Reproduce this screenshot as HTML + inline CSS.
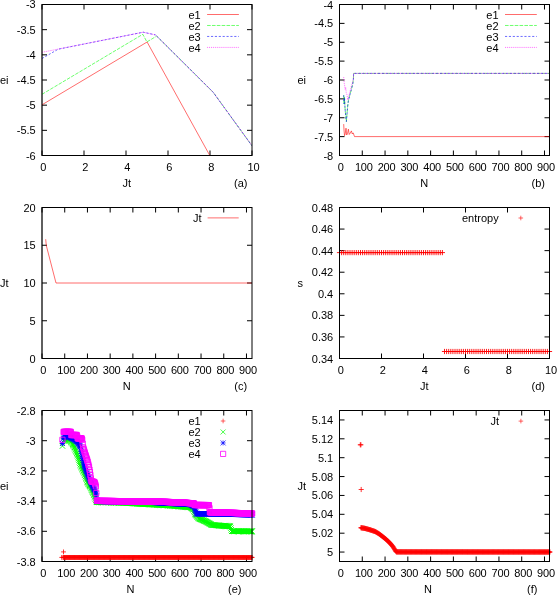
<!DOCTYPE html>
<html><head><meta charset="utf-8"><title>plots</title>
<style>
html,body{margin:0;padding:0;background:#fff;}
body{width:557px;height:595px;overflow:hidden;}
svg{display:block;will-change:transform;}
text{font-family:"Liberation Sans",sans-serif;font-size:11px;fill:#000;}
</style></head><body>
<svg width="557" height="595" viewBox="0 0 557 595">
<defs><filter id="idf" x="0" y="0" width="557" height="595" filterUnits="userSpaceOnUse"><feOffset dx="0" dy="0"/></filter><clipPath id="ca"><rect x="42" y="4.5" width="210" height="151"/></clipPath></defs>
<rect width="557" height="595" fill="#fff"/>
<path d="M42 4.5V155.5" stroke="#000" stroke-width="1" stroke-opacity="0.5" fill="none"/>
<path d="M42 155.5v-5M42 4.5v5M84 155.5v-5M84 4.5v5M126 155.5v-5M126 4.5v5M168 155.5v-5M168 4.5v5M210 155.5v-5M210 4.5v5M252 155.5v-5M252 4.5v5M42 4.5h5M252 4.5h-5M42 29.67h5M252 29.67h-5M42 54.83h5M252 54.83h-5M42 80h5M252 80h-5M42 105.17h5M252 105.17h-5M42 130.33h5M252 130.33h-5M42 155.5h5M252 155.5h-5" stroke="#000" stroke-width="1" fill="none"/>
<g clip-path="url(#ca)">
<polyline points="42,104.8 147.1,42 209.8,155.5" fill="none" stroke="#ff0000" stroke-width="0.58"/>
<polyline points="42,94.3 142.8,34.3 146.9,41.9 156.7,36.1 213.2,92.3 252,145.8" fill="none" stroke="#00ff00" stroke-width="0.58" stroke-dasharray="3.6 1.25"/>
<polyline points="42,58.5 58.2,49.2 143.2,32.2 155.5,34.9 213.2,92.3 252,145.8" fill="none" stroke="#0000ff" stroke-width="0.58" stroke-dasharray="2.15 1.73"/>
<polyline points="42,52.3 143.2,32.2 155.5,34.9 213.2,92.3 252,145.8" fill="none" stroke="#ff00ff" stroke-width="0.58" stroke-dasharray="0.97 0.97"/>
</g>
<polyline points="207.1,14.5 238.9,14.5" fill="none" stroke="#ff0000" stroke-width="0.58"/>
<polyline points="207.1,25.47 238.9,25.47" fill="none" stroke="#00ff00" stroke-width="0.58" stroke-dasharray="3.6 1.25"/>
<polyline points="207.1,36.44 238.9,36.44" fill="none" stroke="#0000ff" stroke-width="0.58" stroke-dasharray="2.15 1.73"/>
<polyline points="207.1,47.41 238.9,47.41" fill="none" stroke="#ff00ff" stroke-width="0.58" stroke-dasharray="0.97 0.97"/>
<path d="M339.5 155.5v-5M339.5 4.5v5M362.28 155.5v-5M362.28 4.5v5M385.05 155.5v-5M385.05 4.5v5M407.83 155.5v-5M407.83 4.5v5M430.61 155.5v-5M430.61 4.5v5M453.38 155.5v-5M453.38 4.5v5M476.16 155.5v-5M476.16 4.5v5M498.94 155.5v-5M498.94 4.5v5M521.71 155.5v-5M521.71 4.5v5M544.49 155.5v-5M544.49 4.5v5M339.5 4.5h5M549.5 4.5h-5M339.5 23.38h5M549.5 23.38h-5M339.5 42.25h5M549.5 42.25h-5M339.5 61.12h5M549.5 61.12h-5M339.5 80h5M549.5 80h-5M339.5 98.88h5M549.5 98.88h-5M339.5 117.75h5M549.5 117.75h-5M339.5 136.62h5M549.5 136.62h-5M339.5 155.5h5M549.5 155.5h-5" stroke="#000" stroke-width="1" fill="none"/>
<polyline points="343.7,124.1 344,130 344.5,135.6 345.2,134 346,128.2 346.7,135 347.5,133.5 348.4,129.2 349.2,134.5 350.3,133 351.4,130.9 352.3,134 353.2,132.9 354.5,136.6 549.5,136.6" fill="none" stroke="#ff0000" stroke-width="0.58"/>
<polyline points="343.7,95.2 344.1,104 344.5,97.5 345,108 345.7,116 346.4,121.5 347,114 347.7,106 348.4,100.6 349.7,95.5 351.1,90.5 352.7,84 353.4,79.5 353.6,73.4 549.5,73.4" fill="none" stroke="#00ff00" stroke-width="0.58" stroke-dasharray="3.6 1.25"/>
<polyline points="343.7,95.2 344.1,104 344.5,97.5 345,108 345.7,116 346.4,121.5 347,114 347.7,106 348.4,100.6 349.7,95.5 351.1,90.5 352.7,84 353.4,79.5 353.6,73.4 549.5,73.4" fill="none" stroke="#0000ff" stroke-width="0.58" stroke-dasharray="2.15 1.73"/>
<polyline points="343.7,77.1 344.2,83 344.7,86 345.2,89.5 345.7,87.5 346.2,92.5 346.8,94 347.3,97 347.8,100 348.6,97 349.8,92 351.1,87.2 352.7,82 353.4,78.5 353.6,73.4 549.5,73.4" fill="none" stroke="#ff00ff" stroke-width="0.58" stroke-dasharray="0.97 0.97"/>
<polyline points="505,14.5 536.8,14.5" fill="none" stroke="#ff0000" stroke-width="0.58"/>
<polyline points="505,25.47 536.8,25.47" fill="none" stroke="#00ff00" stroke-width="0.58" stroke-dasharray="3.6 1.25"/>
<polyline points="505,36.44 536.8,36.44" fill="none" stroke="#0000ff" stroke-width="0.58" stroke-dasharray="2.15 1.73"/>
<polyline points="505,47.41 536.8,47.41" fill="none" stroke="#ff00ff" stroke-width="0.58" stroke-dasharray="0.97 0.97"/>
<path d="M42 207.5V358.5" stroke="#000" stroke-width="1" stroke-opacity="0.5" fill="none"/>
<path d="M42 358.5v-5M42 207.5v5M64.72 358.5v-5M64.72 207.5v5M87.44 358.5v-5M87.44 207.5v5M110.16 358.5v-5M110.16 207.5v5M132.88 358.5v-5M132.88 207.5v5M155.6 358.5v-5M155.6 207.5v5M178.32 358.5v-5M178.32 207.5v5M201.04 358.5v-5M201.04 207.5v5M223.76 358.5v-5M223.76 207.5v5M246.48 358.5v-5M246.48 207.5v5M42 207.5h5M252 207.5h-5M42 245.25h5M252 245.25h-5M42 283h5M252 283h-5M42 320.75h5M252 320.75h-5M42 358.5h5M252 358.5h-5" stroke="#000" stroke-width="1" fill="none"/>
<polyline points="45.7,239.2 46.3,245.5 56,283 252,283" fill="none" stroke="#ff0000" stroke-width="0.58"/>
<polyline points="207.6,217.9 238.7,217.9" fill="none" stroke="#ff0000" stroke-width="0.58"/>
<path d="M339.5 358.5v-5M339.5 207.5v5M381.5 358.5v-5M381.5 207.5v5M423.5 358.5v-5M423.5 207.5v5M465.5 358.5v-5M465.5 207.5v5M507.5 358.5v-5M507.5 207.5v5M549.5 358.5v-5M549.5 207.5v5M339.5 207.5h5M549.5 207.5h-5M339.5 229.07h5M549.5 229.07h-5M339.5 250.64h5M549.5 250.64h-5M339.5 272.21h5M549.5 272.21h-5M339.5 293.79h5M549.5 293.79h-5M339.5 315.36h5M549.5 315.36h-5M339.5 336.93h5M549.5 336.93h-5M339.5 358.5h5M549.5 358.5h-5" stroke="#000" stroke-width="1" fill="none"/>
<path d="M336.9 252.6h5.2M339.5 250v5.2M339 252.6h5.2M341.6 250v5.2M341.1 252.6h5.2M343.7 250v5.2M343.2 252.6h5.2M345.8 250v5.2M345.3 252.6h5.2M347.9 250v5.2M347.4 252.6h5.2M350 250v5.2M349.5 252.6h5.2M352.1 250v5.2M351.6 252.6h5.2M354.2 250v5.2M353.7 252.6h5.2M356.3 250v5.2M355.8 252.6h5.2M358.4 250v5.2M357.9 252.6h5.2M360.5 250v5.2M360 252.6h5.2M362.6 250v5.2M362.1 252.6h5.2M364.7 250v5.2M364.2 252.6h5.2M366.8 250v5.2M366.3 252.6h5.2M368.9 250v5.2M368.4 252.6h5.2M371 250v5.2M370.5 252.6h5.2M373.1 250v5.2M372.6 252.6h5.2M375.2 250v5.2M374.7 252.6h5.2M377.3 250v5.2M376.8 252.6h5.2M379.4 250v5.2M378.9 252.6h5.2M381.5 250v5.2M381 252.6h5.2M383.6 250v5.2M383.1 252.6h5.2M385.7 250v5.2M385.2 252.6h5.2M387.8 250v5.2M387.3 252.6h5.2M389.9 250v5.2M389.4 252.6h5.2M392 250v5.2M391.5 252.6h5.2M394.1 250v5.2M393.6 252.6h5.2M396.2 250v5.2M395.7 252.6h5.2M398.3 250v5.2M397.8 252.6h5.2M400.4 250v5.2M399.9 252.6h5.2M402.5 250v5.2M402 252.6h5.2M404.6 250v5.2M404.1 252.6h5.2M406.7 250v5.2M406.2 252.6h5.2M408.8 250v5.2M408.3 252.6h5.2M410.9 250v5.2M410.4 252.6h5.2M413 250v5.2M412.5 252.6h5.2M415.1 250v5.2M414.6 252.6h5.2M417.2 250v5.2M416.7 252.6h5.2M419.3 250v5.2M418.8 252.6h5.2M421.4 250v5.2M420.9 252.6h5.2M423.5 250v5.2M423 252.6h5.2M425.6 250v5.2M425.1 252.6h5.2M427.7 250v5.2M427.2 252.6h5.2M429.8 250v5.2M429.3 252.6h5.2M431.9 250v5.2M431.4 252.6h5.2M434 250v5.2M433.5 252.6h5.2M436.1 250v5.2M435.6 252.6h5.2M438.2 250v5.2M437.7 252.6h5.2M440.3 250v5.2M439.8 252.6h5.2M442.4 250v5.2M441.9 351.5h5.2M444.5 348.9v5.2M444 351.5h5.2M446.6 348.9v5.2M446.1 351.5h5.2M448.7 348.9v5.2M448.2 351.5h5.2M450.8 348.9v5.2M450.3 351.5h5.2M452.9 348.9v5.2M452.4 351.5h5.2M455 348.9v5.2M454.5 351.5h5.2M457.1 348.9v5.2M456.6 351.5h5.2M459.2 348.9v5.2M458.7 351.5h5.2M461.3 348.9v5.2M460.8 351.5h5.2M463.4 348.9v5.2M462.9 351.5h5.2M465.5 348.9v5.2M465 351.5h5.2M467.6 348.9v5.2M467.1 351.5h5.2M469.7 348.9v5.2M469.2 351.5h5.2M471.8 348.9v5.2M471.3 351.5h5.2M473.9 348.9v5.2M473.4 351.5h5.2M476 348.9v5.2M475.5 351.5h5.2M478.1 348.9v5.2M477.6 351.5h5.2M480.2 348.9v5.2M479.7 351.5h5.2M482.3 348.9v5.2M481.8 351.5h5.2M484.4 348.9v5.2M483.9 351.5h5.2M486.5 348.9v5.2M486 351.5h5.2M488.6 348.9v5.2M488.1 351.5h5.2M490.7 348.9v5.2M490.2 351.5h5.2M492.8 348.9v5.2M492.3 351.5h5.2M494.9 348.9v5.2M494.4 351.5h5.2M497 348.9v5.2M496.5 351.5h5.2M499.1 348.9v5.2M498.6 351.5h5.2M501.2 348.9v5.2M500.7 351.5h5.2M503.3 348.9v5.2M502.8 351.5h5.2M505.4 348.9v5.2M504.9 351.5h5.2M507.5 348.9v5.2M507 351.5h5.2M509.6 348.9v5.2M509.1 351.5h5.2M511.7 348.9v5.2M511.2 351.5h5.2M513.8 348.9v5.2M513.3 351.5h5.2M515.9 348.9v5.2M515.4 351.5h5.2M518 348.9v5.2M517.5 351.5h5.2M520.1 348.9v5.2M519.6 351.5h5.2M522.2 348.9v5.2M521.7 351.5h5.2M524.3 348.9v5.2M523.8 351.5h5.2M526.4 348.9v5.2M525.9 351.5h5.2M528.5 348.9v5.2M528 351.5h5.2M530.6 348.9v5.2M530.1 351.5h5.2M532.7 348.9v5.2M532.2 351.5h5.2M534.8 348.9v5.2M534.3 351.5h5.2M536.9 348.9v5.2M536.4 351.5h5.2M539 348.9v5.2M538.5 351.5h5.2M541.1 348.9v5.2M540.6 351.5h5.2M543.2 348.9v5.2M542.7 351.5h5.2M545.3 348.9v5.2M544.8 351.5h5.2M547.4 348.9v5.2M546.9 351.5h5.2M549.5 348.9v5.2" stroke="#ff0000" stroke-width="0.9" fill="none"/>
<path d="M518.5 218h4.6M520.8 215.7v4.6" stroke="#ff0000" stroke-width="0.6" fill="none"/>
<path d="M42 410.5V561.5" stroke="#000" stroke-width="1" stroke-opacity="0.5" fill="none"/>
<path d="M42 561.5v-5M42 410.5v5M64.72 561.5v-5M64.72 410.5v5M87.44 561.5v-5M87.44 410.5v5M110.16 561.5v-5M110.16 410.5v5M132.88 561.5v-5M132.88 410.5v5M155.6 561.5v-5M155.6 410.5v5M178.32 561.5v-5M178.32 410.5v5M201.04 561.5v-5M201.04 410.5v5M223.76 561.5v-5M223.76 410.5v5M246.48 561.5v-5M246.48 410.5v5M42 410.5h5M252 410.5h-5M42 440.7h5M252 440.7h-5M42 470.9h5M252 470.9h-5M42 501.1h5M252 501.1h-5M42 531.3h5M252 531.3h-5M42 561.5h5M252 561.5h-5" stroke="#000" stroke-width="1" fill="none"/>
<path d="M61.1 551.9h4.8M63.5 549.5v4.8M59.3 557.4h4.8M61.7 555v4.8M60.6 557.4h4.8M63 555v4.8M61.18 557.4h4.8M63.58 555v4.8M61.64 557.4h4.8M64.04 555v4.8M62.09 557.4h4.8M64.49 555v4.8M62.55 557.4h4.8M64.95 555v4.8M63 557.4h4.8M65.4 555v4.8M63.46 557.4h4.8M65.86 555v4.8M63.91 557.4h4.8M66.31 555v4.8M64.36 557.4h4.8M66.76 555v4.8M64.82 557.4h4.8M67.22 555v4.8M65.27 557.4h4.8M67.67 555v4.8M65.73 557.4h4.8M68.13 555v4.8M66.18 557.4h4.8M68.58 555v4.8M66.64 557.4h4.8M69.04 555v4.8M67.09 557.4h4.8M69.49 555v4.8M67.55 557.4h4.8M69.95 555v4.8M68 557.4h4.8M70.4 555v4.8M68.45 557.4h4.8M70.85 555v4.8M68.91 557.4h4.8M71.31 555v4.8M69.36 557.4h4.8M71.76 555v4.8M69.82 557.4h4.8M72.22 555v4.8M70.27 557.4h4.8M72.67 555v4.8M70.73 557.4h4.8M73.13 555v4.8M71.18 557.4h4.8M73.58 555v4.8M71.64 557.4h4.8M74.04 555v4.8M72.09 557.4h4.8M74.49 555v4.8M72.54 557.4h4.8M74.94 555v4.8M73 557.4h4.8M75.4 555v4.8M73.45 557.4h4.8M75.85 555v4.8M73.91 557.4h4.8M76.31 555v4.8M74.36 557.4h4.8M76.76 555v4.8M74.82 557.4h4.8M77.22 555v4.8M75.27 557.4h4.8M77.67 555v4.8M75.72 557.4h4.8M78.12 555v4.8M76.18 557.4h4.8M78.58 555v4.8M76.63 557.4h4.8M79.03 555v4.8M77.09 557.4h4.8M79.49 555v4.8M77.54 557.4h4.8M79.94 555v4.8M78 557.4h4.8M80.4 555v4.8M78.45 557.4h4.8M80.85 555v4.8M78.91 557.4h4.8M81.31 555v4.8M79.36 557.4h4.8M81.76 555v4.8M79.81 557.4h4.8M82.21 555v4.8M80.27 557.4h4.8M82.67 555v4.8M80.72 557.4h4.8M83.12 555v4.8M81.18 557.4h4.8M83.58 555v4.8M81.63 557.4h4.8M84.03 555v4.8M82.09 557.4h4.8M84.49 555v4.8M82.54 557.4h4.8M84.94 555v4.8M83 557.4h4.8M85.4 555v4.8M83.45 557.4h4.8M85.85 555v4.8M83.9 557.4h4.8M86.3 555v4.8M84.36 557.4h4.8M86.76 555v4.8M84.81 557.4h4.8M87.21 555v4.8M85.27 557.4h4.8M87.67 555v4.8M85.72 557.4h4.8M88.12 555v4.8M86.18 557.4h4.8M88.58 555v4.8M86.63 557.4h4.8M89.03 555v4.8M87.08 557.4h4.8M89.48 555v4.8M87.54 557.4h4.8M89.94 555v4.8M87.99 557.4h4.8M90.39 555v4.8M88.45 557.4h4.8M90.85 555v4.8M88.9 557.4h4.8M91.3 555v4.8M89.36 557.4h4.8M91.76 555v4.8M89.81 557.4h4.8M92.21 555v4.8M90.27 557.4h4.8M92.67 555v4.8M90.72 557.4h4.8M93.12 555v4.8M91.17 557.4h4.8M93.57 555v4.8M91.63 557.4h4.8M94.03 555v4.8M92.08 557.4h4.8M94.48 555v4.8M92.54 557.4h4.8M94.94 555v4.8M92.99 557.4h4.8M95.39 555v4.8M93.45 557.4h4.8M95.85 555v4.8M93.9 557.4h4.8M96.3 555v4.8M94.36 557.4h4.8M96.76 555v4.8M94.81 557.4h4.8M97.21 555v4.8M95.26 557.4h4.8M97.66 555v4.8M95.72 557.4h4.8M98.12 555v4.8M96.17 557.4h4.8M98.57 555v4.8M96.63 557.4h4.8M99.03 555v4.8M97.08 557.4h4.8M99.48 555v4.8M97.54 557.4h4.8M99.94 555v4.8M97.99 557.4h4.8M100.39 555v4.8M98.44 557.4h4.8M100.84 555v4.8M98.9 557.4h4.8M101.3 555v4.8M99.35 557.4h4.8M101.75 555v4.8M99.81 557.4h4.8M102.21 555v4.8M100.26 557.4h4.8M102.66 555v4.8M100.72 557.4h4.8M103.12 555v4.8M101.17 557.4h4.8M103.57 555v4.8M101.63 557.4h4.8M104.03 555v4.8M102.08 557.4h4.8M104.48 555v4.8M102.53 557.4h4.8M104.93 555v4.8M102.99 557.4h4.8M105.39 555v4.8M103.44 557.4h4.8M105.84 555v4.8M103.9 557.4h4.8M106.3 555v4.8M104.35 557.4h4.8M106.75 555v4.8M104.81 557.4h4.8M107.21 555v4.8M105.26 557.4h4.8M107.66 555v4.8M105.72 557.4h4.8M108.12 555v4.8M106.17 557.4h4.8M108.57 555v4.8M106.62 557.4h4.8M109.02 555v4.8M107.08 557.4h4.8M109.48 555v4.8M107.53 557.4h4.8M109.93 555v4.8M107.99 557.4h4.8M110.39 555v4.8M108.44 557.4h4.8M110.84 555v4.8M108.9 557.4h4.8M111.3 555v4.8M109.35 557.4h4.8M111.75 555v4.8M109.8 557.4h4.8M112.2 555v4.8M110.26 557.4h4.8M112.66 555v4.8M110.71 557.4h4.8M113.11 555v4.8M111.17 557.4h4.8M113.57 555v4.8M111.62 557.4h4.8M114.02 555v4.8M112.08 557.4h4.8M114.48 555v4.8M112.53 557.4h4.8M114.93 555v4.8M112.99 557.4h4.8M115.39 555v4.8M113.44 557.4h4.8M115.84 555v4.8M113.89 557.4h4.8M116.29 555v4.8M114.35 557.4h4.8M116.75 555v4.8M114.8 557.4h4.8M117.2 555v4.8M115.26 557.4h4.8M117.66 555v4.8M115.71 557.4h4.8M118.11 555v4.8M116.17 557.4h4.8M118.57 555v4.8M116.62 557.4h4.8M119.02 555v4.8M117.08 557.4h4.8M119.48 555v4.8M117.53 557.4h4.8M119.93 555v4.8M117.98 557.4h4.8M120.38 555v4.8M118.44 557.4h4.8M120.84 555v4.8M118.89 557.4h4.8M121.29 555v4.8M119.35 557.4h4.8M121.75 555v4.8M119.8 557.4h4.8M122.2 555v4.8M120.26 557.4h4.8M122.66 555v4.8M120.71 557.4h4.8M123.11 555v4.8M121.16 557.4h4.8M123.56 555v4.8M121.62 557.4h4.8M124.02 555v4.8M122.07 557.4h4.8M124.47 555v4.8M122.53 557.4h4.8M124.93 555v4.8M122.98 557.4h4.8M125.38 555v4.8M123.44 557.4h4.8M125.84 555v4.8M123.89 557.4h4.8M126.29 555v4.8M124.35 557.4h4.8M126.75 555v4.8M124.8 557.4h4.8M127.2 555v4.8M125.25 557.4h4.8M127.65 555v4.8M125.71 557.4h4.8M128.11 555v4.8M126.16 557.4h4.8M128.56 555v4.8M126.62 557.4h4.8M129.02 555v4.8M127.07 557.4h4.8M129.47 555v4.8M127.53 557.4h4.8M129.93 555v4.8M127.98 557.4h4.8M130.38 555v4.8M128.44 557.4h4.8M130.84 555v4.8M128.89 557.4h4.8M131.29 555v4.8M129.34 557.4h4.8M131.74 555v4.8M129.8 557.4h4.8M132.2 555v4.8M130.25 557.4h4.8M132.65 555v4.8M130.71 557.4h4.8M133.11 555v4.8M131.16 557.4h4.8M133.56 555v4.8M131.62 557.4h4.8M134.02 555v4.8M132.07 557.4h4.8M134.47 555v4.8M132.52 557.4h4.8M134.92 555v4.8M132.98 557.4h4.8M135.38 555v4.8M133.43 557.4h4.8M135.83 555v4.8M133.89 557.4h4.8M136.29 555v4.8M134.34 557.4h4.8M136.74 555v4.8M134.8 557.4h4.8M137.2 555v4.8M135.25 557.4h4.8M137.65 555v4.8M135.71 557.4h4.8M138.11 555v4.8M136.16 557.4h4.8M138.56 555v4.8M136.61 557.4h4.8M139.01 555v4.8M137.07 557.4h4.8M139.47 555v4.8M137.52 557.4h4.8M139.92 555v4.8M137.98 557.4h4.8M140.38 555v4.8M138.43 557.4h4.8M140.83 555v4.8M138.89 557.4h4.8M141.29 555v4.8M139.34 557.4h4.8M141.74 555v4.8M139.8 557.4h4.8M142.2 555v4.8M140.25 557.4h4.8M142.65 555v4.8M140.7 557.4h4.8M143.1 555v4.8M141.16 557.4h4.8M143.56 555v4.8M141.61 557.4h4.8M144.01 555v4.8M142.07 557.4h4.8M144.47 555v4.8M142.52 557.4h4.8M144.92 555v4.8M142.98 557.4h4.8M145.38 555v4.8M143.43 557.4h4.8M145.83 555v4.8M143.88 557.4h4.8M146.28 555v4.8M144.34 557.4h4.8M146.74 555v4.8M144.79 557.4h4.8M147.19 555v4.8M145.25 557.4h4.8M147.65 555v4.8M145.7 557.4h4.8M148.1 555v4.8M146.16 557.4h4.8M148.56 555v4.8M146.61 557.4h4.8M149.01 555v4.8M147.07 557.4h4.8M149.47 555v4.8M147.52 557.4h4.8M149.92 555v4.8M147.97 557.4h4.8M150.37 555v4.8M148.43 557.4h4.8M150.83 555v4.8M148.88 557.4h4.8M151.28 555v4.8M149.34 557.4h4.8M151.74 555v4.8M149.79 557.4h4.8M152.19 555v4.8M150.25 557.4h4.8M152.65 555v4.8M150.7 557.4h4.8M153.1 555v4.8M151.16 557.4h4.8M153.56 555v4.8M151.61 557.4h4.8M154.01 555v4.8M152.06 557.4h4.8M154.46 555v4.8M152.52 557.4h4.8M154.92 555v4.8M152.97 557.4h4.8M155.37 555v4.8M153.43 557.4h4.8M155.83 555v4.8M153.88 557.4h4.8M156.28 555v4.8M154.34 557.4h4.8M156.74 555v4.8M154.79 557.4h4.8M157.19 555v4.8M155.24 557.4h4.8M157.64 555v4.8M155.7 557.4h4.8M158.1 555v4.8M156.15 557.4h4.8M158.55 555v4.8M156.61 557.4h4.8M159.01 555v4.8M157.06 557.4h4.8M159.46 555v4.8M157.52 557.4h4.8M159.92 555v4.8M157.97 557.4h4.8M160.37 555v4.8M158.43 557.4h4.8M160.83 555v4.8M158.88 557.4h4.8M161.28 555v4.8M159.33 557.4h4.8M161.73 555v4.8M159.79 557.4h4.8M162.19 555v4.8M160.24 557.4h4.8M162.64 555v4.8M160.7 557.4h4.8M163.1 555v4.8M161.15 557.4h4.8M163.55 555v4.8M161.61 557.4h4.8M164.01 555v4.8M162.06 557.4h4.8M164.46 555v4.8M162.52 557.4h4.8M164.92 555v4.8M162.97 557.4h4.8M165.37 555v4.8M163.42 557.4h4.8M165.82 555v4.8M163.88 557.4h4.8M166.28 555v4.8M164.33 557.4h4.8M166.73 555v4.8M164.79 557.4h4.8M167.19 555v4.8M165.24 557.4h4.8M167.64 555v4.8M165.7 557.4h4.8M168.1 555v4.8M166.15 557.4h4.8M168.55 555v4.8M166.6 557.4h4.8M169 555v4.8M167.06 557.4h4.8M169.46 555v4.8M167.51 557.4h4.8M169.91 555v4.8M167.97 557.4h4.8M170.37 555v4.8M168.42 557.4h4.8M170.82 555v4.8M168.88 557.4h4.8M171.28 555v4.8M169.33 557.4h4.8M171.73 555v4.8M169.79 557.4h4.8M172.19 555v4.8M170.24 557.4h4.8M172.64 555v4.8M170.69 557.4h4.8M173.09 555v4.8M171.15 557.4h4.8M173.55 555v4.8M171.6 557.4h4.8M174 555v4.8M172.06 557.4h4.8M174.46 555v4.8M172.51 557.4h4.8M174.91 555v4.8M172.97 557.4h4.8M175.37 555v4.8M173.42 557.4h4.8M175.82 555v4.8M173.88 557.4h4.8M176.28 555v4.8M174.33 557.4h4.8M176.73 555v4.8M174.78 557.4h4.8M177.18 555v4.8M175.24 557.4h4.8M177.64 555v4.8M175.69 557.4h4.8M178.09 555v4.8M176.15 557.4h4.8M178.55 555v4.8M176.6 557.4h4.8M179 555v4.8M177.06 557.4h4.8M179.46 555v4.8M177.51 557.4h4.8M179.91 555v4.8M177.96 557.4h4.8M180.36 555v4.8M178.42 557.4h4.8M180.82 555v4.8M178.87 557.4h4.8M181.27 555v4.8M179.33 557.4h4.8M181.73 555v4.8M179.78 557.4h4.8M182.18 555v4.8M180.24 557.4h4.8M182.64 555v4.8M180.69 557.4h4.8M183.09 555v4.8M181.15 557.4h4.8M183.55 555v4.8M181.6 557.4h4.8M184 555v4.8M182.05 557.4h4.8M184.45 555v4.8M182.51 557.4h4.8M184.91 555v4.8M182.96 557.4h4.8M185.36 555v4.8M183.42 557.4h4.8M185.82 555v4.8M183.87 557.4h4.8M186.27 555v4.8M184.33 557.4h4.8M186.73 555v4.8M184.78 557.4h4.8M187.18 555v4.8M185.24 557.4h4.8M187.64 555v4.8M185.69 557.4h4.8M188.09 555v4.8M186.14 557.4h4.8M188.54 555v4.8M186.6 557.4h4.8M189 555v4.8M187.05 557.4h4.8M189.45 555v4.8M187.51 557.4h4.8M189.91 555v4.8M187.96 557.4h4.8M190.36 555v4.8M188.42 557.4h4.8M190.82 555v4.8M188.87 557.4h4.8M191.27 555v4.8M189.32 557.4h4.8M191.72 555v4.8M189.78 557.4h4.8M192.18 555v4.8M190.23 557.4h4.8M192.63 555v4.8M190.69 557.4h4.8M193.09 555v4.8M191.14 557.4h4.8M193.54 555v4.8M191.6 557.4h4.8M194 555v4.8M192.05 557.4h4.8M194.45 555v4.8M192.51 557.4h4.8M194.91 555v4.8M192.96 557.4h4.8M195.36 555v4.8M193.41 557.4h4.8M195.81 555v4.8M193.87 557.4h4.8M196.27 555v4.8M194.32 557.4h4.8M196.72 555v4.8M194.78 557.4h4.8M197.18 555v4.8M195.23 557.4h4.8M197.63 555v4.8M195.69 557.4h4.8M198.09 555v4.8M196.14 557.4h4.8M198.54 555v4.8M196.6 557.4h4.8M199 555v4.8M197.05 557.4h4.8M199.45 555v4.8M197.5 557.4h4.8M199.9 555v4.8M197.96 557.4h4.8M200.36 555v4.8M198.41 557.4h4.8M200.81 555v4.8M198.87 557.4h4.8M201.27 555v4.8M199.32 557.4h4.8M201.72 555v4.8M199.78 557.4h4.8M202.18 555v4.8M200.23 557.4h4.8M202.63 555v4.8M200.68 557.4h4.8M203.08 555v4.8M201.14 557.4h4.8M203.54 555v4.8M201.59 557.4h4.8M203.99 555v4.8M202.05 557.4h4.8M204.45 555v4.8M202.5 557.4h4.8M204.9 555v4.8M202.96 557.4h4.8M205.36 555v4.8M203.41 557.4h4.8M205.81 555v4.8M203.87 557.4h4.8M206.27 555v4.8M204.32 557.4h4.8M206.72 555v4.8M204.77 557.4h4.8M207.17 555v4.8M205.23 557.4h4.8M207.63 555v4.8M205.68 557.4h4.8M208.08 555v4.8M206.14 557.4h4.8M208.54 555v4.8M206.59 557.4h4.8M208.99 555v4.8M207.05 557.4h4.8M209.45 555v4.8M207.5 557.4h4.8M209.9 555v4.8M207.96 557.4h4.8M210.36 555v4.8M208.41 557.4h4.8M210.81 555v4.8M208.86 557.4h4.8M211.26 555v4.8M209.32 557.4h4.8M211.72 555v4.8M209.77 557.4h4.8M212.17 555v4.8M210.23 557.4h4.8M212.63 555v4.8M210.68 557.4h4.8M213.08 555v4.8M211.14 557.4h4.8M213.54 555v4.8M211.59 557.4h4.8M213.99 555v4.8M212.04 557.4h4.8M214.44 555v4.8M212.5 557.4h4.8M214.9 555v4.8M212.95 557.4h4.8M215.35 555v4.8M213.41 557.4h4.8M215.81 555v4.8M213.86 557.4h4.8M216.26 555v4.8M214.32 557.4h4.8M216.72 555v4.8M214.77 557.4h4.8M217.17 555v4.8M215.23 557.4h4.8M217.63 555v4.8M215.68 557.4h4.8M218.08 555v4.8M216.13 557.4h4.8M218.53 555v4.8M216.59 557.4h4.8M218.99 555v4.8M217.04 557.4h4.8M219.44 555v4.8M217.5 557.4h4.8M219.9 555v4.8M217.95 557.4h4.8M220.35 555v4.8M218.41 557.4h4.8M220.81 555v4.8M218.86 557.4h4.8M221.26 555v4.8M219.32 557.4h4.8M221.72 555v4.8M219.77 557.4h4.8M222.17 555v4.8M220.22 557.4h4.8M222.62 555v4.8M220.68 557.4h4.8M223.08 555v4.8M221.13 557.4h4.8M223.53 555v4.8M221.59 557.4h4.8M223.99 555v4.8M222.04 557.4h4.8M224.44 555v4.8M222.5 557.4h4.8M224.9 555v4.8M222.95 557.4h4.8M225.35 555v4.8M223.4 557.4h4.8M225.8 555v4.8M223.86 557.4h4.8M226.26 555v4.8M224.31 557.4h4.8M226.71 555v4.8M224.77 557.4h4.8M227.17 555v4.8M225.22 557.4h4.8M227.62 555v4.8M225.68 557.4h4.8M228.08 555v4.8M226.13 557.4h4.8M228.53 555v4.8M226.59 557.4h4.8M228.99 555v4.8M227.04 557.4h4.8M229.44 555v4.8M227.49 557.4h4.8M229.89 555v4.8M227.95 557.4h4.8M230.35 555v4.8M228.4 557.4h4.8M230.8 555v4.8M228.86 557.4h4.8M231.26 555v4.8M229.31 557.4h4.8M231.71 555v4.8M229.77 557.4h4.8M232.17 555v4.8M230.22 557.4h4.8M232.62 555v4.8M230.68 557.4h4.8M233.08 555v4.8M231.13 557.4h4.8M233.53 555v4.8M231.58 557.4h4.8M233.98 555v4.8M232.04 557.4h4.8M234.44 555v4.8M232.49 557.4h4.8M234.89 555v4.8M232.95 557.4h4.8M235.35 555v4.8M233.4 557.4h4.8M235.8 555v4.8M233.86 557.4h4.8M236.26 555v4.8M234.31 557.4h4.8M236.71 555v4.8M234.76 557.4h4.8M237.16 555v4.8M235.22 557.4h4.8M237.62 555v4.8M235.67 557.4h4.8M238.07 555v4.8M236.13 557.4h4.8M238.53 555v4.8M236.58 557.4h4.8M238.98 555v4.8M237.04 557.4h4.8M239.44 555v4.8M237.49 557.4h4.8M239.89 555v4.8M237.95 557.4h4.8M240.35 555v4.8M238.4 557.4h4.8M240.8 555v4.8M238.85 557.4h4.8M241.25 555v4.8M239.31 557.4h4.8M241.71 555v4.8M239.76 557.4h4.8M242.16 555v4.8M240.22 557.4h4.8M242.62 555v4.8M240.67 557.4h4.8M243.07 555v4.8M241.13 557.4h4.8M243.53 555v4.8M241.58 557.4h4.8M243.98 555v4.8M242.04 557.4h4.8M244.44 555v4.8M242.49 557.4h4.8M244.89 555v4.8M242.94 557.4h4.8M245.34 555v4.8M243.4 557.4h4.8M245.8 555v4.8M243.85 557.4h4.8M246.25 555v4.8M244.31 557.4h4.8M246.71 555v4.8M244.76 557.4h4.8M247.16 555v4.8M245.22 557.4h4.8M247.62 555v4.8M245.67 557.4h4.8M248.07 555v4.8M246.12 557.4h4.8M248.52 555v4.8M246.58 557.4h4.8M248.98 555v4.8M247.03 557.4h4.8M249.43 555v4.8M247.49 557.4h4.8M249.89 555v4.8M247.94 557.4h4.8M250.34 555v4.8M248.4 557.4h4.8M250.8 555v4.8M248.85 557.4h4.8M251.25 555v4.8M249.31 557.4h4.8M251.71 555v4.8M249.76 557.4h4.8M252.16 555v4.8" stroke="#ff0000" stroke-width="0.8" fill="none"/>
<path d="M59.75 443.3l5.4 5.4M59.75 448.7l5.4 -5.4M60.88 438.19l5.4 5.4M60.88 443.59l5.4 -5.4M61.34 437.63l5.4 5.4M61.34 443.03l5.4 -5.4M61.79 437.06l5.4 5.4M61.79 442.46l5.4 -5.4M62.25 436.49l5.4 5.4M62.25 441.89l5.4 -5.4M62.7 435.92l5.4 5.4M62.7 441.32l5.4 -5.4M63.16 435.86l5.4 5.4M63.16 441.26l5.4 -5.4M63.61 435.93l5.4 5.4M63.61 441.33l5.4 -5.4M64.06 436l5.4 5.4M64.06 441.4l5.4 -5.4M64.52 436.08l5.4 5.4M64.52 441.48l5.4 -5.4M64.97 436.15l5.4 5.4M64.97 441.55l5.4 -5.4M65.43 436.32l5.4 5.4M65.43 441.72l5.4 -5.4M65.88 436.75l5.4 5.4M65.88 442.15l5.4 -5.4M66.34 437.17l5.4 5.4M66.34 442.57l5.4 -5.4M66.79 437.6l5.4 5.4M66.79 443l5.4 -5.4M67.25 438.03l5.4 5.4M67.25 443.43l5.4 -5.4M67.7 438.45l5.4 5.4M67.7 443.85l5.4 -5.4M68.15 438.88l5.4 5.4M68.15 444.28l5.4 -5.4M68.61 439.31l5.4 5.4M68.61 444.71l5.4 -5.4M69.06 440.07l5.4 5.4M69.06 445.47l5.4 -5.4M69.52 440.83l5.4 5.4M69.52 446.23l5.4 -5.4M69.97 441.59l5.4 5.4M69.97 446.99l5.4 -5.4M70.43 442.34l5.4 5.4M70.43 447.74l5.4 -5.4M70.88 443.1l5.4 5.4M70.88 448.5l5.4 -5.4M71.34 443.86l5.4 5.4M71.34 449.26l5.4 -5.4M71.79 444.79l5.4 5.4M71.79 450.19l5.4 -5.4M72.24 445.96l5.4 5.4M72.24 451.36l5.4 -5.4M72.7 447.12l5.4 5.4M72.7 452.52l5.4 -5.4M73.15 448.29l5.4 5.4M73.15 453.69l5.4 -5.4M73.61 449.46l5.4 5.4M73.61 454.86l5.4 -5.4M74.06 450.63l5.4 5.4M74.06 456.03l5.4 -5.4M74.52 451.8l5.4 5.4M74.52 457.2l5.4 -5.4M74.97 452.97l5.4 5.4M74.97 458.37l5.4 -5.4M75.42 454.38l5.4 5.4M75.42 459.78l5.4 -5.4M75.88 455.9l5.4 5.4M75.88 461.3l5.4 -5.4M76.33 457.41l5.4 5.4M76.33 462.81l5.4 -5.4M76.79 458.93l5.4 5.4M76.79 464.33l5.4 -5.4M77.24 460.44l5.4 5.4M77.24 465.84l5.4 -5.4M77.7 461.96l5.4 5.4M77.7 467.36l5.4 -5.4M78.15 463.09l5.4 5.4M78.15 468.49l5.4 -5.4M78.61 464.1l5.4 5.4M78.61 469.5l5.4 -5.4M79.06 465.12l5.4 5.4M79.06 470.52l5.4 -5.4M79.51 466.13l5.4 5.4M79.51 471.53l5.4 -5.4M79.97 467.15l5.4 5.4M79.97 472.55l5.4 -5.4M80.42 468.17l5.4 5.4M80.42 473.57l5.4 -5.4M80.88 469.18l5.4 5.4M80.88 474.58l5.4 -5.4M81.33 470.2l5.4 5.4M81.33 475.6l5.4 -5.4M81.79 471.33l5.4 5.4M81.79 476.73l5.4 -5.4M82.24 472.62l5.4 5.4M82.24 478.02l5.4 -5.4M82.7 473.9l5.4 5.4M82.7 479.3l5.4 -5.4M83.15 475.19l5.4 5.4M83.15 480.59l5.4 -5.4M83.6 476.48l5.4 5.4M83.6 481.88l5.4 -5.4M84.06 477.77l5.4 5.4M84.06 483.17l5.4 -5.4M84.51 479.05l5.4 5.4M84.51 484.45l5.4 -5.4M84.97 479.89l5.4 5.4M84.97 485.29l5.4 -5.4M85.42 480.63l5.4 5.4M85.42 486.03l5.4 -5.4M85.88 481.36l5.4 5.4M85.88 486.76l5.4 -5.4M86.33 482.09l5.4 5.4M86.33 487.49l5.4 -5.4M86.78 482.82l5.4 5.4M86.78 488.22l5.4 -5.4M87.24 483.56l5.4 5.4M87.24 488.96l5.4 -5.4M87.69 484.29l5.4 5.4M87.69 489.69l5.4 -5.4M88.15 485.31l5.4 5.4M88.15 490.71l5.4 -5.4M88.6 486.33l5.4 5.4M88.6 491.73l5.4 -5.4M89.06 487.35l5.4 5.4M89.06 492.75l5.4 -5.4M89.51 488.38l5.4 5.4M89.51 493.78l5.4 -5.4M89.97 489.4l5.4 5.4M89.97 494.8l5.4 -5.4M90.42 490.42l5.4 5.4M90.42 495.82l5.4 -5.4M90.87 491.44l5.4 5.4M90.87 496.84l5.4 -5.4M91.33 492.46l5.4 5.4M91.33 497.86l5.4 -5.4M91.78 493.55l5.4 5.4M91.78 498.95l5.4 -5.4M92.24 494.89l5.4 5.4M92.24 500.29l5.4 -5.4M92.69 496.23l5.4 5.4M92.69 501.63l5.4 -5.4M93.15 497.57l5.4 5.4M93.15 502.97l5.4 -5.4M93.6 498.91l5.4 5.4M93.6 504.31l5.4 -5.4M94.06 499.5l5.4 5.4M94.06 504.9l5.4 -5.4M94.51 499.51l5.4 5.4M94.51 504.91l5.4 -5.4M94.96 499.52l5.4 5.4M94.96 504.92l5.4 -5.4M95.42 499.53l5.4 5.4M95.42 504.93l5.4 -5.4M95.87 499.54l5.4 5.4M95.87 504.94l5.4 -5.4M96.33 499.54l5.4 5.4M96.33 504.94l5.4 -5.4M96.78 499.55l5.4 5.4M96.78 504.95l5.4 -5.4M97.24 499.56l5.4 5.4M97.24 504.96l5.4 -5.4M97.69 499.57l5.4 5.4M97.69 504.97l5.4 -5.4M98.14 499.57l5.4 5.4M98.14 504.97l5.4 -5.4M98.6 499.58l5.4 5.4M98.6 504.98l5.4 -5.4M99.05 499.59l5.4 5.4M99.05 504.99l5.4 -5.4M99.51 499.6l5.4 5.4M99.51 505l5.4 -5.4M99.96 499.6l5.4 5.4M99.96 505l5.4 -5.4M100.42 499.61l5.4 5.4M100.42 505.01l5.4 -5.4M100.87 499.62l5.4 5.4M100.87 505.02l5.4 -5.4M101.33 499.63l5.4 5.4M101.33 505.03l5.4 -5.4M101.78 499.64l5.4 5.4M101.78 505.04l5.4 -5.4M102.23 499.64l5.4 5.4M102.23 505.04l5.4 -5.4M102.69 499.65l5.4 5.4M102.69 505.05l5.4 -5.4M103.14 499.66l5.4 5.4M103.14 505.06l5.4 -5.4M103.6 499.67l5.4 5.4M103.6 505.07l5.4 -5.4M104.05 499.67l5.4 5.4M104.05 505.07l5.4 -5.4M104.51 499.68l5.4 5.4M104.51 505.08l5.4 -5.4M104.96 499.69l5.4 5.4M104.96 505.09l5.4 -5.4M105.42 499.7l5.4 5.4M105.42 505.1l5.4 -5.4M105.87 499.71l5.4 5.4M105.87 505.11l5.4 -5.4M106.32 499.71l5.4 5.4M106.32 505.11l5.4 -5.4M106.78 499.72l5.4 5.4M106.78 505.12l5.4 -5.4M107.23 499.73l5.4 5.4M107.23 505.13l5.4 -5.4M107.69 499.74l5.4 5.4M107.69 505.14l5.4 -5.4M108.14 499.74l5.4 5.4M108.14 505.14l5.4 -5.4M108.6 499.75l5.4 5.4M108.6 505.15l5.4 -5.4M109.05 499.76l5.4 5.4M109.05 505.16l5.4 -5.4M109.5 499.77l5.4 5.4M109.5 505.17l5.4 -5.4M109.96 499.78l5.4 5.4M109.96 505.18l5.4 -5.4M110.41 499.78l5.4 5.4M110.41 505.18l5.4 -5.4M110.87 499.79l5.4 5.4M110.87 505.19l5.4 -5.4M111.32 499.8l5.4 5.4M111.32 505.2l5.4 -5.4M111.78 499.81l5.4 5.4M111.78 505.21l5.4 -5.4M112.23 499.81l5.4 5.4M112.23 505.21l5.4 -5.4M112.69 499.82l5.4 5.4M112.69 505.22l5.4 -5.4M113.14 499.83l5.4 5.4M113.14 505.23l5.4 -5.4M113.59 499.84l5.4 5.4M113.59 505.24l5.4 -5.4M114.05 499.84l5.4 5.4M114.05 505.24l5.4 -5.4M114.5 499.85l5.4 5.4M114.5 505.25l5.4 -5.4M114.96 499.86l5.4 5.4M114.96 505.26l5.4 -5.4M115.41 499.87l5.4 5.4M115.41 505.27l5.4 -5.4M115.87 499.88l5.4 5.4M115.87 505.28l5.4 -5.4M116.32 499.88l5.4 5.4M116.32 505.28l5.4 -5.4M116.78 499.89l5.4 5.4M116.78 505.29l5.4 -5.4M117.23 499.9l5.4 5.4M117.23 505.3l5.4 -5.4M117.68 499.92l5.4 5.4M117.68 505.32l5.4 -5.4M118.14 499.95l5.4 5.4M118.14 505.35l5.4 -5.4M118.59 499.98l5.4 5.4M118.59 505.38l5.4 -5.4M119.05 500.01l5.4 5.4M119.05 505.41l5.4 -5.4M119.5 500.04l5.4 5.4M119.5 505.44l5.4 -5.4M119.96 500.06l5.4 5.4M119.96 505.46l5.4 -5.4M120.41 500.09l5.4 5.4M120.41 505.49l5.4 -5.4M120.86 500.12l5.4 5.4M120.86 505.52l5.4 -5.4M121.32 500.15l5.4 5.4M121.32 505.55l5.4 -5.4M121.77 500.18l5.4 5.4M121.77 505.58l5.4 -5.4M122.23 500.2l5.4 5.4M122.23 505.6l5.4 -5.4M122.68 500.23l5.4 5.4M122.68 505.63l5.4 -5.4M123.14 500.26l5.4 5.4M123.14 505.66l5.4 -5.4M123.59 500.29l5.4 5.4M123.59 505.69l5.4 -5.4M124.05 500.32l5.4 5.4M124.05 505.72l5.4 -5.4M124.5 500.34l5.4 5.4M124.5 505.74l5.4 -5.4M124.95 500.37l5.4 5.4M124.95 505.77l5.4 -5.4M125.41 500.4l5.4 5.4M125.41 505.8l5.4 -5.4M125.86 500.43l5.4 5.4M125.86 505.83l5.4 -5.4M126.32 500.45l5.4 5.4M126.32 505.85l5.4 -5.4M126.77 500.48l5.4 5.4M126.77 505.88l5.4 -5.4M127.23 500.51l5.4 5.4M127.23 505.91l5.4 -5.4M127.68 500.54l5.4 5.4M127.68 505.94l5.4 -5.4M128.14 500.57l5.4 5.4M128.14 505.97l5.4 -5.4M128.59 500.59l5.4 5.4M128.59 505.99l5.4 -5.4M129.04 500.62l5.4 5.4M129.04 506.02l5.4 -5.4M129.5 500.65l5.4 5.4M129.5 506.05l5.4 -5.4M129.95 500.68l5.4 5.4M129.95 506.08l5.4 -5.4M130.41 500.71l5.4 5.4M130.41 506.11l5.4 -5.4M130.86 500.73l5.4 5.4M130.86 506.13l5.4 -5.4M131.32 500.76l5.4 5.4M131.32 506.16l5.4 -5.4M131.77 500.78l5.4 5.4M131.77 506.18l5.4 -5.4M132.22 500.81l5.4 5.4M132.22 506.21l5.4 -5.4M132.68 500.84l5.4 5.4M132.68 506.24l5.4 -5.4M133.13 500.86l5.4 5.4M133.13 506.26l5.4 -5.4M133.59 500.89l5.4 5.4M133.59 506.29l5.4 -5.4M134.04 500.91l5.4 5.4M134.04 506.31l5.4 -5.4M134.5 500.94l5.4 5.4M134.5 506.34l5.4 -5.4M134.95 500.96l5.4 5.4M134.95 506.36l5.4 -5.4M135.41 500.99l5.4 5.4M135.41 506.39l5.4 -5.4M135.86 501.02l5.4 5.4M135.86 506.42l5.4 -5.4M136.31 501.04l5.4 5.4M136.31 506.44l5.4 -5.4M136.77 501.07l5.4 5.4M136.77 506.47l5.4 -5.4M137.22 501.09l5.4 5.4M137.22 506.49l5.4 -5.4M137.68 501.12l5.4 5.4M137.68 506.52l5.4 -5.4M138.13 501.14l5.4 5.4M138.13 506.54l5.4 -5.4M138.59 501.17l5.4 5.4M138.59 506.57l5.4 -5.4M139.04 501.2l5.4 5.4M139.04 506.6l5.4 -5.4M139.5 501.22l5.4 5.4M139.5 506.62l5.4 -5.4M139.95 501.25l5.4 5.4M139.95 506.65l5.4 -5.4M140.4 501.27l5.4 5.4M140.4 506.67l5.4 -5.4M140.86 501.3l5.4 5.4M140.86 506.7l5.4 -5.4M141.31 501.33l5.4 5.4M141.31 506.73l5.4 -5.4M141.77 501.35l5.4 5.4M141.77 506.75l5.4 -5.4M142.22 501.38l5.4 5.4M142.22 506.78l5.4 -5.4M142.68 501.4l5.4 5.4M142.68 506.8l5.4 -5.4M143.13 501.43l5.4 5.4M143.13 506.83l5.4 -5.4M143.58 501.45l5.4 5.4M143.58 506.85l5.4 -5.4M144.04 501.48l5.4 5.4M144.04 506.88l5.4 -5.4M144.49 501.51l5.4 5.4M144.49 506.91l5.4 -5.4M144.95 501.53l5.4 5.4M144.95 506.93l5.4 -5.4M145.4 501.56l5.4 5.4M145.4 506.96l5.4 -5.4M145.86 501.58l5.4 5.4M145.86 506.98l5.4 -5.4M146.31 501.61l5.4 5.4M146.31 507.01l5.4 -5.4M146.77 501.63l5.4 5.4M146.77 507.03l5.4 -5.4M147.22 501.66l5.4 5.4M147.22 507.06l5.4 -5.4M147.67 501.69l5.4 5.4M147.67 507.09l5.4 -5.4M148.13 501.71l5.4 5.4M148.13 507.11l5.4 -5.4M148.58 501.74l5.4 5.4M148.58 507.14l5.4 -5.4M149.04 501.76l5.4 5.4M149.04 507.16l5.4 -5.4M149.49 501.79l5.4 5.4M149.49 507.19l5.4 -5.4M149.95 501.82l5.4 5.4M149.95 507.22l5.4 -5.4M150.4 501.84l5.4 5.4M150.4 507.24l5.4 -5.4M150.86 501.87l5.4 5.4M150.86 507.27l5.4 -5.4M151.31 501.89l5.4 5.4M151.31 507.29l5.4 -5.4M151.76 501.92l5.4 5.4M151.76 507.32l5.4 -5.4M152.22 501.94l5.4 5.4M152.22 507.34l5.4 -5.4M152.67 501.97l5.4 5.4M152.67 507.37l5.4 -5.4M153.13 502l5.4 5.4M153.13 507.4l5.4 -5.4M153.58 502.02l5.4 5.4M153.58 507.42l5.4 -5.4M154.04 502.05l5.4 5.4M154.04 507.45l5.4 -5.4M154.49 502.07l5.4 5.4M154.49 507.47l5.4 -5.4M154.94 502.1l5.4 5.4M154.94 507.5l5.4 -5.4M155.4 502.12l5.4 5.4M155.4 507.52l5.4 -5.4M155.85 502.15l5.4 5.4M155.85 507.55l5.4 -5.4M156.31 502.18l5.4 5.4M156.31 507.58l5.4 -5.4M156.76 502.2l5.4 5.4M156.76 507.6l5.4 -5.4M157.22 502.23l5.4 5.4M157.22 507.63l5.4 -5.4M157.67 502.25l5.4 5.4M157.67 507.65l5.4 -5.4M158.13 502.28l5.4 5.4M158.13 507.68l5.4 -5.4M158.58 502.31l5.4 5.4M158.58 507.71l5.4 -5.4M159.03 502.33l5.4 5.4M159.03 507.73l5.4 -5.4M159.49 502.36l5.4 5.4M159.49 507.76l5.4 -5.4M159.94 502.38l5.4 5.4M159.94 507.78l5.4 -5.4M160.4 502.41l5.4 5.4M160.4 507.81l5.4 -5.4M160.85 502.43l5.4 5.4M160.85 507.83l5.4 -5.4M161.31 502.46l5.4 5.4M161.31 507.86l5.4 -5.4M161.76 502.49l5.4 5.4M161.76 507.89l5.4 -5.4M162.22 502.51l5.4 5.4M162.22 507.91l5.4 -5.4M162.67 502.54l5.4 5.4M162.67 507.94l5.4 -5.4M163.12 502.56l5.4 5.4M163.12 507.96l5.4 -5.4M163.58 502.59l5.4 5.4M163.58 507.99l5.4 -5.4M164.03 502.61l5.4 5.4M164.03 508.01l5.4 -5.4M164.49 502.64l5.4 5.4M164.49 508.04l5.4 -5.4M164.94 502.67l5.4 5.4M164.94 508.07l5.4 -5.4M165.4 502.69l5.4 5.4M165.4 508.09l5.4 -5.4M165.85 502.72l5.4 5.4M165.85 508.12l5.4 -5.4M166.3 502.74l5.4 5.4M166.3 508.14l5.4 -5.4M166.76 502.77l5.4 5.4M166.76 508.17l5.4 -5.4M167.21 502.8l5.4 5.4M167.21 508.2l5.4 -5.4M167.67 502.83l5.4 5.4M167.67 508.23l5.4 -5.4M168.12 502.87l5.4 5.4M168.12 508.27l5.4 -5.4M168.58 502.91l5.4 5.4M168.58 508.31l5.4 -5.4M169.03 502.95l5.4 5.4M169.03 508.35l5.4 -5.4M169.49 502.99l5.4 5.4M169.49 508.39l5.4 -5.4M169.94 503.03l5.4 5.4M169.94 508.43l5.4 -5.4M170.39 503.07l5.4 5.4M170.39 508.47l5.4 -5.4M170.85 503.11l5.4 5.4M170.85 508.51l5.4 -5.4M171.3 503.15l5.4 5.4M171.3 508.55l5.4 -5.4M171.76 503.19l5.4 5.4M171.76 508.59l5.4 -5.4M172.21 503.23l5.4 5.4M172.21 508.63l5.4 -5.4M172.67 503.27l5.4 5.4M172.67 508.67l5.4 -5.4M173.12 503.31l5.4 5.4M173.12 508.71l5.4 -5.4M173.58 503.35l5.4 5.4M173.58 508.75l5.4 -5.4M174.03 503.39l5.4 5.4M174.03 508.79l5.4 -5.4M174.48 503.43l5.4 5.4M174.48 508.83l5.4 -5.4M174.94 503.47l5.4 5.4M174.94 508.87l5.4 -5.4M175.39 503.51l5.4 5.4M175.39 508.91l5.4 -5.4M175.85 503.55l5.4 5.4M175.85 508.95l5.4 -5.4M176.3 503.59l5.4 5.4M176.3 508.99l5.4 -5.4M176.76 503.63l5.4 5.4M176.76 509.03l5.4 -5.4M177.21 503.67l5.4 5.4M177.21 509.07l5.4 -5.4M177.66 503.71l5.4 5.4M177.66 509.11l5.4 -5.4M178.12 503.75l5.4 5.4M178.12 509.15l5.4 -5.4M178.57 503.79l5.4 5.4M178.57 509.19l5.4 -5.4M179.03 503.83l5.4 5.4M179.03 509.23l5.4 -5.4M179.48 503.87l5.4 5.4M179.48 509.27l5.4 -5.4M179.94 503.91l5.4 5.4M179.94 509.31l5.4 -5.4M180.39 503.95l5.4 5.4M180.39 509.35l5.4 -5.4M180.85 503.99l5.4 5.4M180.85 509.39l5.4 -5.4M181.3 504.03l5.4 5.4M181.3 509.43l5.4 -5.4M181.75 504.07l5.4 5.4M181.75 509.47l5.4 -5.4M182.21 504.11l5.4 5.4M182.21 509.51l5.4 -5.4M182.66 504.15l5.4 5.4M182.66 509.55l5.4 -5.4M183.12 504.19l5.4 5.4M183.12 509.59l5.4 -5.4M183.57 504.23l5.4 5.4M183.57 509.63l5.4 -5.4M184.03 504.27l5.4 5.4M184.03 509.67l5.4 -5.4M184.48 504.31l5.4 5.4M184.48 509.71l5.4 -5.4M184.94 504.35l5.4 5.4M184.94 509.75l5.4 -5.4M185.39 504.39l5.4 5.4M185.39 509.79l5.4 -5.4M185.84 504.43l5.4 5.4M185.84 509.83l5.4 -5.4M186.3 504.47l5.4 5.4M186.3 509.87l5.4 -5.4M186.75 504.51l5.4 5.4M186.75 509.91l5.4 -5.4M187.21 504.55l5.4 5.4M187.21 509.95l5.4 -5.4M187.66 504.59l5.4 5.4M187.66 509.99l5.4 -5.4M188.12 504.83l5.4 5.4M188.12 510.23l5.4 -5.4M188.57 505.16l5.4 5.4M188.57 510.56l5.4 -5.4M189.02 505.5l5.4 5.4M189.02 510.9l5.4 -5.4M189.48 505.83l5.4 5.4M189.48 511.23l5.4 -5.4M189.93 506.16l5.4 5.4M189.93 511.56l5.4 -5.4M190.39 506.5l5.4 5.4M190.39 511.9l5.4 -5.4M190.84 506.93l5.4 5.4M190.84 512.33l5.4 -5.4M191.3 508.29l5.4 5.4M191.3 513.69l5.4 -5.4M191.75 509.65l5.4 5.4M191.75 515.05l5.4 -5.4M192.21 511.02l5.4 5.4M192.21 516.42l5.4 -5.4M192.66 511.7l5.4 5.4M192.66 517.11l5.4 -5.4M193.11 512.22l5.4 5.4M193.11 517.62l5.4 -5.4M193.57 512.73l5.4 5.4M193.57 518.13l5.4 -5.4M194.02 513.24l5.4 5.4M194.02 518.64l5.4 -5.4M194.48 513.75l5.4 5.4M194.48 519.15l5.4 -5.4M194.93 514.26l5.4 5.4M194.93 519.66l5.4 -5.4M195.39 514.77l5.4 5.4M195.39 520.17l5.4 -5.4M195.84 515.28l5.4 5.4M195.84 520.68l5.4 -5.4M196.3 515.79l5.4 5.4M196.3 521.19l5.4 -5.4M196.75 516l5.4 5.4M196.75 521.4l5.4 -5.4M197.2 516.19l5.4 5.4M197.2 521.59l5.4 -5.4M197.66 516.39l5.4 5.4M197.66 521.79l5.4 -5.4M198.11 516.59l5.4 5.4M198.11 521.99l5.4 -5.4M198.57 516.79l5.4 5.4M198.57 522.19l5.4 -5.4M199.02 516.98l5.4 5.4M199.02 522.38l5.4 -5.4M199.48 517.18l5.4 5.4M199.48 522.58l5.4 -5.4M199.93 517.38l5.4 5.4M199.93 522.78l5.4 -5.4M200.38 517.58l5.4 5.4M200.38 522.98l5.4 -5.4M200.84 517.77l5.4 5.4M200.84 523.17l5.4 -5.4M201.29 517.97l5.4 5.4M201.29 523.37l5.4 -5.4M201.75 518.17l5.4 5.4M201.75 523.57l5.4 -5.4M202.2 518.37l5.4 5.4M202.2 523.77l5.4 -5.4M202.66 518.56l5.4 5.4M202.66 523.96l5.4 -5.4M203.11 518.76l5.4 5.4M203.11 524.16l5.4 -5.4M203.57 519.01l5.4 5.4M203.57 524.41l5.4 -5.4M204.02 519.27l5.4 5.4M204.02 524.67l5.4 -5.4M204.47 519.53l5.4 5.4M204.47 524.93l5.4 -5.4M204.93 519.79l5.4 5.4M204.93 525.19l5.4 -5.4M205.38 520.05l5.4 5.4M205.38 525.45l5.4 -5.4M205.84 520.31l5.4 5.4M205.84 525.71l5.4 -5.4M206.29 520.57l5.4 5.4M206.29 525.97l5.4 -5.4M206.75 520.83l5.4 5.4M206.75 526.23l5.4 -5.4M207.2 521.1l5.4 5.4M207.2 526.5l5.4 -5.4M207.66 521.36l5.4 5.4M207.66 526.76l5.4 -5.4M208.11 521.62l5.4 5.4M208.11 527.02l5.4 -5.4M208.56 521.88l5.4 5.4M208.56 527.28l5.4 -5.4M209.02 522.14l5.4 5.4M209.02 527.54l5.4 -5.4M209.47 522.31l5.4 5.4M209.47 527.71l5.4 -5.4M209.93 522.35l5.4 5.4M209.93 527.75l5.4 -5.4M210.38 522.39l5.4 5.4M210.38 527.79l5.4 -5.4M210.84 522.42l5.4 5.4M210.84 527.82l5.4 -5.4M211.29 522.46l5.4 5.4M211.29 527.86l5.4 -5.4M211.74 522.5l5.4 5.4M211.74 527.9l5.4 -5.4M212.2 522.53l5.4 5.4M212.2 527.93l5.4 -5.4M212.65 522.57l5.4 5.4M212.65 527.97l5.4 -5.4M213.11 522.6l5.4 5.4M213.11 528l5.4 -5.4M213.56 522.64l5.4 5.4M213.56 528.04l5.4 -5.4M214.02 522.68l5.4 5.4M214.02 528.08l5.4 -5.4M214.47 522.71l5.4 5.4M214.47 528.11l5.4 -5.4M214.93 522.75l5.4 5.4M214.93 528.15l5.4 -5.4M215.38 522.79l5.4 5.4M215.38 528.19l5.4 -5.4M215.83 522.82l5.4 5.4M215.83 528.22l5.4 -5.4M216.29 522.86l5.4 5.4M216.29 528.26l5.4 -5.4M216.74 522.9l5.4 5.4M216.74 528.3l5.4 -5.4M217.2 522.93l5.4 5.4M217.2 528.33l5.4 -5.4M217.65 522.97l5.4 5.4M217.65 528.37l5.4 -5.4M218.11 523l5.4 5.4M218.11 528.4l5.4 -5.4M218.56 523.04l5.4 5.4M218.56 528.44l5.4 -5.4M219.02 523.08l5.4 5.4M219.02 528.48l5.4 -5.4M219.47 523.11l5.4 5.4M219.47 528.51l5.4 -5.4M219.92 523.14l5.4 5.4M219.92 528.54l5.4 -5.4M220.38 523.16l5.4 5.4M220.38 528.56l5.4 -5.4M220.83 523.19l5.4 5.4M220.83 528.59l5.4 -5.4M221.29 523.22l5.4 5.4M221.29 528.62l5.4 -5.4M221.74 523.25l5.4 5.4M221.74 528.65l5.4 -5.4M222.2 523.27l5.4 5.4M222.2 528.67l5.4 -5.4M222.65 523.3l5.4 5.4M222.65 528.7l5.4 -5.4M223.1 523.33l5.4 5.4M223.1 528.73l5.4 -5.4M223.56 523.36l5.4 5.4M223.56 528.76l5.4 -5.4M224.01 523.38l5.4 5.4M224.01 528.78l5.4 -5.4M224.47 523.41l5.4 5.4M224.47 528.81l5.4 -5.4M224.92 523.44l5.4 5.4M224.92 528.84l5.4 -5.4M225.38 523.47l5.4 5.4M225.38 528.87l5.4 -5.4M225.83 523.49l5.4 5.4M225.83 528.89l5.4 -5.4M226.29 523.52l5.4 5.4M226.29 528.92l5.4 -5.4M226.74 523.55l5.4 5.4M226.74 528.95l5.4 -5.4M227.19 523.58l5.4 5.4M227.19 528.98l5.4 -5.4M227.65 523.77l5.4 5.4M227.65 529.17l5.4 -5.4M228.1 525.4l5.4 5.4M228.1 530.8l5.4 -5.4M228.56 527.02l5.4 5.4M228.56 532.42l5.4 -5.4M229.01 528.6l5.4 5.4M229.01 534l5.4 -5.4M229.47 528.6l5.4 5.4M229.47 534l5.4 -5.4M229.92 528.6l5.4 5.4M229.92 534l5.4 -5.4M230.38 528.61l5.4 5.4M230.38 534.01l5.4 -5.4M230.83 528.61l5.4 5.4M230.83 534.01l5.4 -5.4M231.28 528.61l5.4 5.4M231.28 534.01l5.4 -5.4M231.74 528.61l5.4 5.4M231.74 534.01l5.4 -5.4M232.19 528.61l5.4 5.4M232.19 534.01l5.4 -5.4M232.65 528.62l5.4 5.4M232.65 534.02l5.4 -5.4M233.1 528.62l5.4 5.4M233.1 534.02l5.4 -5.4M233.56 528.62l5.4 5.4M233.56 534.02l5.4 -5.4M234.01 528.62l5.4 5.4M234.01 534.02l5.4 -5.4M234.46 528.62l5.4 5.4M234.46 534.02l5.4 -5.4M234.92 528.63l5.4 5.4M234.92 534.03l5.4 -5.4M235.37 528.63l5.4 5.4M235.37 534.03l5.4 -5.4M235.83 528.63l5.4 5.4M235.83 534.03l5.4 -5.4M236.28 528.63l5.4 5.4M236.28 534.03l5.4 -5.4M236.74 528.63l5.4 5.4M236.74 534.03l5.4 -5.4M237.19 528.64l5.4 5.4M237.19 534.04l5.4 -5.4M237.65 528.64l5.4 5.4M237.65 534.04l5.4 -5.4M238.1 528.64l5.4 5.4M238.1 534.04l5.4 -5.4M238.55 528.64l5.4 5.4M238.55 534.04l5.4 -5.4M239.01 528.64l5.4 5.4M239.01 534.04l5.4 -5.4M239.46 528.65l5.4 5.4M239.46 534.05l5.4 -5.4M239.92 528.65l5.4 5.4M239.92 534.05l5.4 -5.4M240.37 528.65l5.4 5.4M240.37 534.05l5.4 -5.4M240.83 528.65l5.4 5.4M240.83 534.05l5.4 -5.4M241.28 528.66l5.4 5.4M241.28 534.06l5.4 -5.4M241.74 528.66l5.4 5.4M241.74 534.06l5.4 -5.4M242.19 528.66l5.4 5.4M242.19 534.06l5.4 -5.4M242.64 528.66l5.4 5.4M242.64 534.06l5.4 -5.4M243.1 528.66l5.4 5.4M243.1 534.06l5.4 -5.4M243.55 528.67l5.4 5.4M243.55 534.07l5.4 -5.4M244.01 528.67l5.4 5.4M244.01 534.07l5.4 -5.4M244.46 528.67l5.4 5.4M244.46 534.07l5.4 -5.4M244.92 528.67l5.4 5.4M244.92 534.07l5.4 -5.4M245.37 528.67l5.4 5.4M245.37 534.07l5.4 -5.4M245.82 528.68l5.4 5.4M245.82 534.08l5.4 -5.4M246.28 528.68l5.4 5.4M246.28 534.08l5.4 -5.4M246.73 528.68l5.4 5.4M246.73 534.08l5.4 -5.4M247.19 528.68l5.4 5.4M247.19 534.08l5.4 -5.4M247.64 528.68l5.4 5.4M247.64 534.08l5.4 -5.4M248.1 528.69l5.4 5.4M248.1 534.09l5.4 -5.4M248.55 528.69l5.4 5.4M248.55 534.09l5.4 -5.4M249.01 528.69l5.4 5.4M249.01 534.09l5.4 -5.4M249.46 528.69l5.4 5.4M249.46 534.09l5.4 -5.4" stroke="#00ff00" stroke-width="0.9" fill="none"/>
<path d="M59.95 443.5h5M62.45 441v5M59.95 441l5 5M59.95 446l5 -5M61.08 438.33h5M63.58 435.83v5M61.08 435.83l5 5M61.08 440.83l5 -5M61.54 437.42h5M64.04 434.92v5M61.54 434.92l5 5M61.54 439.92l5 -5M61.99 436.51h5M64.49 434.01v5M61.99 434.01l5 5M61.99 439.01l5 -5M62.45 436.53h5M64.95 434.03v5M62.45 434.03l5 5M62.45 439.03l5 -5M62.9 436.56h5M65.4 434.06v5M62.9 434.06l5 5M62.9 439.06l5 -5M63.36 436.59h5M65.86 434.09v5M63.36 434.09l5 5M63.36 439.09l5 -5M63.81 436.62h5M66.31 434.12v5M63.81 434.12l5 5M63.81 439.12l5 -5M64.26 436.65h5M66.76 434.15v5M64.26 434.15l5 5M64.26 439.15l5 -5M64.72 436.68h5M67.22 434.18v5M64.72 434.18l5 5M64.72 439.18l5 -5M65.17 436.71h5M67.67 434.21v5M65.17 434.21l5 5M65.17 439.21l5 -5M65.63 436.74h5M68.13 434.24v5M65.63 434.24l5 5M65.63 439.24l5 -5M66.08 436.77h5M68.58 434.27v5M66.08 434.27l5 5M66.08 439.27l5 -5M66.54 436.82h5M69.04 434.32v5M66.54 434.32l5 5M66.54 439.32l5 -5M66.99 437.05h5M69.49 434.55v5M66.99 434.55l5 5M66.99 439.55l5 -5M67.45 437.27h5M69.95 434.77v5M67.45 434.77l5 5M67.45 439.77l5 -5M67.9 437.5h5M70.4 435v5M67.9 435l5 5M67.9 440l5 -5M68.35 437.73h5M70.85 435.23v5M68.35 435.23l5 5M68.35 440.23l5 -5M68.81 437.95h5M71.31 435.45v5M68.81 435.45l5 5M68.81 440.45l5 -5M69.26 438.18h5M71.76 435.68v5M69.26 435.68l5 5M69.26 440.68l5 -5M69.72 438.41h5M72.22 435.91v5M69.72 435.91l5 5M69.72 440.91l5 -5M70.17 438.64h5M72.67 436.14v5M70.17 436.14l5 5M70.17 441.14l5 -5M70.63 438.86h5M73.13 436.36v5M70.63 436.36l5 5M70.63 441.36l5 -5M71.08 439.09h5M73.58 436.59v5M71.08 436.59l5 5M71.08 441.59l5 -5M71.54 439.33h5M74.04 436.83v5M71.54 436.83l5 5M71.54 441.83l5 -5M71.99 439.68h5M74.49 437.18v5M71.99 437.18l5 5M71.99 442.18l5 -5M72.44 440.03h5M74.94 437.53v5M72.44 437.53l5 5M72.44 442.53l5 -5M72.9 440.38h5M75.4 437.88v5M72.9 437.88l5 5M72.9 442.88l5 -5M73.35 440.73h5M75.85 438.23v5M73.35 438.23l5 5M73.35 443.23l5 -5M73.81 441.08h5M76.31 438.58v5M73.81 438.58l5 5M73.81 443.58l5 -5M74.26 441.43h5M76.76 438.93v5M74.26 438.93l5 5M74.26 443.93l5 -5M74.72 441.78h5M77.22 439.28v5M74.72 439.28l5 5M74.72 444.28l5 -5M75.17 442.28h5M77.67 439.78v5M75.17 439.78l5 5M75.17 444.78l5 -5M75.62 443.04h5M78.12 440.54v5M75.62 440.54l5 5M75.62 445.54l5 -5M76.08 443.8h5M78.58 441.3v5M76.08 441.3l5 5M76.08 446.3l5 -5M76.53 444.56h5M79.03 442.06v5M76.53 442.06l5 5M76.53 447.06l5 -5M76.99 445.31h5M79.49 442.81v5M76.99 442.81l5 5M76.99 447.81l5 -5M77.44 446.07h5M79.94 443.57v5M77.44 443.57l5 5M77.44 448.57l5 -5M77.9 446.83h5M80.4 444.33v5M77.9 444.33l5 5M77.9 449.33l5 -5M78.35 448.86h5M80.85 446.36v5M78.35 446.36l5 5M78.35 451.36l5 -5M78.81 451.26h5M81.31 448.76v5M78.81 448.76l5 5M78.81 453.76l5 -5M79.26 453.67h5M81.76 451.17v5M79.26 451.17l5 5M79.26 456.17l5 -5M79.71 456.07h5M82.21 453.57v5M79.71 453.57l5 5M79.71 458.57l5 -5M80.17 458.34h5M82.67 455.84v5M80.17 455.84l5 5M80.17 460.84l5 -5M80.62 460.62h5M83.12 458.12v5M80.62 458.12l5 5M80.62 463.12l5 -5M81.08 462.89h5M83.58 460.39v5M81.08 460.39l5 5M81.08 465.39l5 -5M81.53 465.09h5M84.03 462.59v5M81.53 462.59l5 5M81.53 467.59l5 -5M81.99 466.38h5M84.49 463.88v5M81.99 463.88l5 5M81.99 468.88l5 -5M82.44 467.67h5M84.94 465.17v5M82.44 465.17l5 5M82.44 470.17l5 -5M82.9 468.95h5M85.4 466.45v5M82.9 466.45l5 5M82.9 471.45l5 -5M83.35 470.24h5M85.85 467.74v5M83.35 467.74l5 5M83.35 472.74l5 -5M83.8 471.53h5M86.3 469.03v5M83.8 469.03l5 5M83.8 474.03l5 -5M84.26 472.82h5M86.76 470.32v5M84.26 470.32l5 5M84.26 475.32l5 -5M84.71 474h5M87.21 471.5v5M84.71 471.5l5 5M84.71 476.5l5 -5M85.17 475.06h5M87.67 472.56v5M85.17 472.56l5 5M85.17 477.56l5 -5M85.62 476.12h5M88.12 473.62v5M85.62 473.62l5 5M85.62 478.62l5 -5M86.08 477.18h5M88.58 474.68v5M86.08 474.68l5 5M86.08 479.68l5 -5M86.53 478.24h5M89.03 475.74v5M86.53 475.74l5 5M86.53 480.74l5 -5M86.98 479.3h5M89.48 476.8v5M86.98 476.8l5 5M86.98 481.8l5 -5M87.44 480.36h5M89.94 477.86v5M87.44 477.86l5 5M87.44 482.86l5 -5M87.89 481.41h5M90.39 478.91v5M87.89 478.91l5 5M87.89 483.91l5 -5M88.35 482.47h5M90.85 479.97v5M88.35 479.97l5 5M88.35 484.97l5 -5M88.8 483.52h5M91.3 481.02v5M88.8 481.02l5 5M88.8 486.02l5 -5M89.26 484.58h5M91.76 482.08v5M89.26 482.08l5 5M89.26 487.08l5 -5M89.71 485.63h5M92.21 483.13v5M89.71 483.13l5 5M89.71 488.13l5 -5M90.17 486.69h5M92.67 484.19v5M90.17 484.19l5 5M90.17 489.19l5 -5M90.62 487.51h5M93.12 485.01v5M90.62 485.01l5 5M90.62 490.01l5 -5M91.07 488.23h5M93.57 485.73v5M91.07 485.73l5 5M91.07 490.73l5 -5M91.53 488.95h5M94.03 486.45v5M91.53 486.45l5 5M91.53 491.45l5 -5M91.98 489.68h5M94.48 487.18v5M91.98 487.18l5 5M91.98 492.18l5 -5M92.44 490.4h5M94.94 487.9v5M92.44 487.9l5 5M92.44 492.9l5 -5M92.89 491.97h5M95.39 489.47v5M92.89 489.47l5 5M92.89 494.47l5 -5M93.35 493.67h5M95.85 491.17v5M93.35 491.17l5 5M93.35 496.17l5 -5M93.8 496.09h5M96.3 493.59v5M93.8 493.59l5 5M93.8 498.59l5 -5M94.26 501.01h5M96.76 498.51v5M94.26 498.51l5 5M94.26 503.51l5 -5M94.71 501.51h5M97.21 499.01v5M94.71 499.01l5 5M94.71 504.01l5 -5M95.16 501.51h5M97.66 499.01v5M95.16 499.01l5 5M95.16 504.01l5 -5M95.62 501.52h5M98.12 499.02v5M95.62 499.02l5 5M95.62 504.02l5 -5M96.07 501.53h5M98.57 499.03v5M96.07 499.03l5 5M96.07 504.03l5 -5M96.53 501.53h5M99.03 499.03v5M96.53 499.03l5 5M96.53 504.03l5 -5M96.98 501.54h5M99.48 499.04v5M96.98 499.04l5 5M96.98 504.04l5 -5M97.44 501.55h5M99.94 499.05v5M97.44 499.05l5 5M97.44 504.05l5 -5M97.89 501.55h5M100.39 499.05v5M97.89 499.05l5 5M97.89 504.05l5 -5M98.34 501.56h5M100.84 499.06v5M98.34 499.06l5 5M98.34 504.06l5 -5M98.8 501.57h5M101.3 499.07v5M98.8 499.07l5 5M98.8 504.07l5 -5M99.25 501.57h5M101.75 499.07v5M99.25 499.07l5 5M99.25 504.07l5 -5M99.71 501.58h5M102.21 499.08v5M99.71 499.08l5 5M99.71 504.08l5 -5M100.16 501.59h5M102.66 499.09v5M100.16 499.09l5 5M100.16 504.09l5 -5M100.62 501.59h5M103.12 499.09v5M100.62 499.09l5 5M100.62 504.09l5 -5M101.07 501.6h5M103.57 499.1v5M101.07 499.1l5 5M101.07 504.1l5 -5M101.53 501.61h5M104.03 499.11v5M101.53 499.11l5 5M101.53 504.11l5 -5M101.98 501.62h5M104.48 499.12v5M101.98 499.12l5 5M101.98 504.12l5 -5M102.43 501.62h5M104.93 499.12v5M102.43 499.12l5 5M102.43 504.12l5 -5M102.89 501.63h5M105.39 499.13v5M102.89 499.13l5 5M102.89 504.13l5 -5M103.34 501.64h5M105.84 499.14v5M103.34 499.14l5 5M103.34 504.14l5 -5M103.8 501.64h5M106.3 499.14v5M103.8 499.14l5 5M103.8 504.14l5 -5M104.25 501.65h5M106.75 499.15v5M104.25 499.15l5 5M104.25 504.15l5 -5M104.71 501.66h5M107.21 499.16v5M104.71 499.16l5 5M104.71 504.16l5 -5M105.16 501.66h5M107.66 499.16v5M105.16 499.16l5 5M105.16 504.16l5 -5M105.62 501.67h5M108.12 499.17v5M105.62 499.17l5 5M105.62 504.17l5 -5M106.07 501.68h5M108.57 499.18v5M106.07 499.18l5 5M106.07 504.18l5 -5M106.52 501.68h5M109.02 499.18v5M106.52 499.18l5 5M106.52 504.18l5 -5M106.98 501.69h5M109.48 499.19v5M106.98 499.19l5 5M106.98 504.19l5 -5M107.43 501.7h5M109.93 499.2v5M107.43 499.2l5 5M107.43 504.2l5 -5M107.89 501.7h5M110.39 499.2v5M107.89 499.2l5 5M107.89 504.2l5 -5M108.34 501.71h5M110.84 499.21v5M108.34 499.21l5 5M108.34 504.21l5 -5M108.8 501.72h5M111.3 499.22v5M108.8 499.22l5 5M108.8 504.22l5 -5M109.25 501.72h5M111.75 499.22v5M109.25 499.22l5 5M109.25 504.22l5 -5M109.7 501.73h5M112.2 499.23v5M109.7 499.23l5 5M109.7 504.23l5 -5M110.16 501.74h5M112.66 499.24v5M110.16 499.24l5 5M110.16 504.24l5 -5M110.61 501.75h5M113.11 499.25v5M110.61 499.25l5 5M110.61 504.25l5 -5M111.07 501.75h5M113.57 499.25v5M111.07 499.25l5 5M111.07 504.25l5 -5M111.52 501.76h5M114.02 499.26v5M111.52 499.26l5 5M111.52 504.26l5 -5M111.98 501.77h5M114.48 499.27v5M111.98 499.27l5 5M111.98 504.27l5 -5M112.43 501.77h5M114.93 499.27v5M112.43 499.27l5 5M112.43 504.27l5 -5M112.89 501.78h5M115.39 499.28v5M112.89 499.28l5 5M112.89 504.28l5 -5M113.34 501.79h5M115.84 499.29v5M113.34 499.29l5 5M113.34 504.29l5 -5M113.79 501.79h5M116.29 499.29v5M113.79 499.29l5 5M113.79 504.29l5 -5M114.25 501.8h5M116.75 499.3v5M114.25 499.3l5 5M114.25 504.3l5 -5M114.7 501.81h5M117.2 499.31v5M114.7 499.31l5 5M114.7 504.31l5 -5M115.16 501.81h5M117.66 499.31v5M115.16 499.31l5 5M115.16 504.31l5 -5M115.61 501.82h5M118.11 499.32v5M115.61 499.32l5 5M115.61 504.32l5 -5M116.07 501.83h5M118.57 499.33v5M116.07 499.33l5 5M116.07 504.33l5 -5M116.52 501.83h5M119.02 499.33v5M116.52 499.33l5 5M116.52 504.33l5 -5M116.98 501.84h5M119.48 499.34v5M116.98 499.34l5 5M116.98 504.34l5 -5M117.43 501.85h5M119.93 499.35v5M117.43 499.35l5 5M117.43 504.35l5 -5M117.88 501.85h5M120.38 499.35v5M117.88 499.35l5 5M117.88 504.35l5 -5M118.34 501.86h5M120.84 499.36v5M118.34 499.36l5 5M118.34 504.36l5 -5M118.79 501.87h5M121.29 499.37v5M118.79 499.37l5 5M118.79 504.37l5 -5M119.25 501.88h5M121.75 499.38v5M119.25 499.38l5 5M119.25 504.38l5 -5M119.7 501.88h5M122.2 499.38v5M119.7 499.38l5 5M119.7 504.38l5 -5M120.16 501.89h5M122.66 499.39v5M120.16 499.39l5 5M120.16 504.39l5 -5M120.61 501.9h5M123.11 499.4v5M120.61 499.4l5 5M120.61 504.4l5 -5M121.06 501.9h5M123.56 499.4v5M121.06 499.4l5 5M121.06 504.4l5 -5M121.52 501.91h5M124.02 499.41v5M121.52 499.41l5 5M121.52 504.41l5 -5M121.97 501.92h5M124.47 499.42v5M121.97 499.42l5 5M121.97 504.42l5 -5M122.43 501.92h5M124.93 499.42v5M122.43 499.42l5 5M122.43 504.42l5 -5M122.88 501.93h5M125.38 499.43v5M122.88 499.43l5 5M122.88 504.43l5 -5M123.34 501.94h5M125.84 499.44v5M123.34 499.44l5 5M123.34 504.44l5 -5M123.79 501.94h5M126.29 499.44v5M123.79 499.44l5 5M123.79 504.44l5 -5M124.25 501.95h5M126.75 499.45v5M124.25 499.45l5 5M124.25 504.45l5 -5M124.7 501.96h5M127.2 499.46v5M124.7 499.46l5 5M124.7 504.46l5 -5M125.15 501.96h5M127.65 499.46v5M125.15 499.46l5 5M125.15 504.46l5 -5M125.61 501.97h5M128.11 499.47v5M125.61 499.47l5 5M125.61 504.47l5 -5M126.06 501.98h5M128.56 499.48v5M126.06 499.48l5 5M126.06 504.48l5 -5M126.52 501.98h5M129.02 499.48v5M126.52 499.48l5 5M126.52 504.48l5 -5M126.97 501.99h5M129.47 499.49v5M126.97 499.49l5 5M126.97 504.49l5 -5M127.43 502h5M129.93 499.5v5M127.43 499.5l5 5M127.43 504.5l5 -5M127.88 502h5M130.38 499.5v5M127.88 499.5l5 5M127.88 504.5l5 -5M128.34 502.01h5M130.84 499.51v5M128.34 499.51l5 5M128.34 504.51l5 -5M128.79 502.02h5M131.29 499.52v5M128.79 499.52l5 5M128.79 504.52l5 -5M129.24 502.03h5M131.74 499.53v5M129.24 499.53l5 5M129.24 504.53l5 -5M129.7 502.03h5M132.2 499.53v5M129.7 499.53l5 5M129.7 504.53l5 -5M130.15 502.04h5M132.65 499.54v5M130.15 499.54l5 5M130.15 504.54l5 -5M130.61 502.05h5M133.11 499.55v5M130.61 499.55l5 5M130.61 504.55l5 -5M131.06 502.05h5M133.56 499.55v5M131.06 499.55l5 5M131.06 504.55l5 -5M131.52 502.06h5M134.02 499.56v5M131.52 499.56l5 5M131.52 504.56l5 -5M131.97 502.07h5M134.47 499.57v5M131.97 499.57l5 5M131.97 504.57l5 -5M132.42 502.07h5M134.92 499.57v5M132.42 499.57l5 5M132.42 504.57l5 -5M132.88 502.08h5M135.38 499.58v5M132.88 499.58l5 5M132.88 504.58l5 -5M133.33 502.09h5M135.83 499.59v5M133.33 499.59l5 5M133.33 504.59l5 -5M133.79 502.09h5M136.29 499.59v5M133.79 499.59l5 5M133.79 504.59l5 -5M134.24 502.1h5M136.74 499.6v5M134.24 499.6l5 5M134.24 504.6l5 -5M134.7 502.11h5M137.2 499.61v5M134.7 499.61l5 5M134.7 504.61l5 -5M135.15 502.11h5M137.65 499.61v5M135.15 499.61l5 5M135.15 504.61l5 -5M135.61 502.12h5M138.11 499.62v5M135.61 499.62l5 5M135.61 504.62l5 -5M136.06 502.13h5M138.56 499.63v5M136.06 499.63l5 5M136.06 504.63l5 -5M136.51 502.13h5M139.01 499.63v5M136.51 499.63l5 5M136.51 504.63l5 -5M136.97 502.14h5M139.47 499.64v5M136.97 499.64l5 5M136.97 504.64l5 -5M137.42 502.15h5M139.92 499.65v5M137.42 499.65l5 5M137.42 504.65l5 -5M137.88 502.16h5M140.38 499.66v5M137.88 499.66l5 5M137.88 504.66l5 -5M138.33 502.16h5M140.83 499.66v5M138.33 499.66l5 5M138.33 504.66l5 -5M138.79 502.17h5M141.29 499.67v5M138.79 499.67l5 5M138.79 504.67l5 -5M139.24 502.18h5M141.74 499.68v5M139.24 499.68l5 5M139.24 504.68l5 -5M139.7 502.18h5M142.2 499.68v5M139.7 499.68l5 5M139.7 504.68l5 -5M140.15 502.19h5M142.65 499.69v5M140.15 499.69l5 5M140.15 504.69l5 -5M140.6 502.2h5M143.1 499.7v5M140.6 499.7l5 5M140.6 504.7l5 -5M141.06 502.2h5M143.56 499.7v5M141.06 499.7l5 5M141.06 504.7l5 -5M141.51 502.21h5M144.01 499.71v5M141.51 499.71l5 5M141.51 504.71l5 -5M141.97 502.22h5M144.47 499.72v5M141.97 499.72l5 5M141.97 504.72l5 -5M142.42 502.22h5M144.92 499.72v5M142.42 499.72l5 5M142.42 504.72l5 -5M142.88 502.23h5M145.38 499.73v5M142.88 499.73l5 5M142.88 504.73l5 -5M143.33 502.24h5M145.83 499.74v5M143.33 499.74l5 5M143.33 504.74l5 -5M143.78 502.24h5M146.28 499.74v5M143.78 499.74l5 5M143.78 504.74l5 -5M144.24 502.25h5M146.74 499.75v5M144.24 499.75l5 5M144.24 504.75l5 -5M144.69 502.26h5M147.19 499.76v5M144.69 499.76l5 5M144.69 504.76l5 -5M145.15 502.26h5M147.65 499.76v5M145.15 499.76l5 5M145.15 504.76l5 -5M145.6 502.27h5M148.1 499.77v5M145.6 499.77l5 5M145.6 504.77l5 -5M146.06 502.28h5M148.56 499.78v5M146.06 499.78l5 5M146.06 504.78l5 -5M146.51 502.29h5M149.01 499.79v5M146.51 499.79l5 5M146.51 504.79l5 -5M146.97 502.29h5M149.47 499.79v5M146.97 499.79l5 5M146.97 504.79l5 -5M147.42 502.3h5M149.92 499.8v5M147.42 499.8l5 5M147.42 504.8l5 -5M147.87 502.32h5M150.37 499.82v5M147.87 499.82l5 5M147.87 504.82l5 -5M148.33 502.35h5M150.83 499.85v5M148.33 499.85l5 5M148.33 504.85l5 -5M148.78 502.37h5M151.28 499.87v5M148.78 499.87l5 5M148.78 504.87l5 -5M149.24 502.4h5M151.74 499.9v5M149.24 499.9l5 5M149.24 504.9l5 -5M149.69 502.42h5M152.19 499.92v5M149.69 499.92l5 5M149.69 504.92l5 -5M150.15 502.45h5M152.65 499.95v5M150.15 499.95l5 5M150.15 504.95l5 -5M150.6 502.48h5M153.1 499.98v5M150.6 499.98l5 5M150.6 504.98l5 -5M151.06 502.5h5M153.56 500v5M151.06 500l5 5M151.06 505l5 -5M151.51 502.53h5M154.01 500.03v5M151.51 500.03l5 5M151.51 505.03l5 -5M151.96 502.55h5M154.46 500.05v5M151.96 500.05l5 5M151.96 505.05l5 -5M152.42 502.58h5M154.92 500.08v5M152.42 500.08l5 5M152.42 505.08l5 -5M152.87 502.61h5M155.37 500.11v5M152.87 500.11l5 5M152.87 505.11l5 -5M153.33 502.63h5M155.83 500.13v5M153.33 500.13l5 5M153.33 505.13l5 -5M153.78 502.66h5M156.28 500.16v5M153.78 500.16l5 5M153.78 505.16l5 -5M154.24 502.68h5M156.74 500.18v5M154.24 500.18l5 5M154.24 505.18l5 -5M154.69 502.71h5M157.19 500.21v5M154.69 500.21l5 5M154.69 505.21l5 -5M155.14 502.73h5M157.64 500.23v5M155.14 500.23l5 5M155.14 505.23l5 -5M155.6 502.76h5M158.1 500.26v5M155.6 500.26l5 5M155.6 505.26l5 -5M156.05 502.79h5M158.55 500.29v5M156.05 500.29l5 5M156.05 505.29l5 -5M156.51 502.81h5M159.01 500.31v5M156.51 500.31l5 5M156.51 505.31l5 -5M156.96 502.84h5M159.46 500.34v5M156.96 500.34l5 5M156.96 505.34l5 -5M157.42 502.86h5M159.92 500.36v5M157.42 500.36l5 5M157.42 505.36l5 -5M157.87 502.89h5M160.37 500.39v5M157.87 500.39l5 5M157.87 505.39l5 -5M158.33 502.91h5M160.83 500.41v5M158.33 500.41l5 5M158.33 505.41l5 -5M158.78 502.94h5M161.28 500.44v5M158.78 500.44l5 5M158.78 505.44l5 -5M159.23 502.97h5M161.73 500.47v5M159.23 500.47l5 5M159.23 505.47l5 -5M159.69 502.99h5M162.19 500.49v5M159.69 500.49l5 5M159.69 505.49l5 -5M160.14 503.02h5M162.64 500.52v5M160.14 500.52l5 5M160.14 505.52l5 -5M160.6 503.04h5M163.1 500.54v5M160.6 500.54l5 5M160.6 505.54l5 -5M161.05 503.07h5M163.55 500.57v5M161.05 500.57l5 5M161.05 505.57l5 -5M161.51 503.1h5M164.01 500.6v5M161.51 500.6l5 5M161.51 505.6l5 -5M161.96 503.12h5M164.46 500.62v5M161.96 500.62l5 5M161.96 505.62l5 -5M162.42 503.15h5M164.92 500.65v5M162.42 500.65l5 5M162.42 505.65l5 -5M162.87 503.17h5M165.37 500.67v5M162.87 500.67l5 5M162.87 505.67l5 -5M163.32 503.2h5M165.82 500.7v5M163.32 500.7l5 5M163.32 505.7l5 -5M163.78 503.22h5M166.28 500.72v5M163.78 500.72l5 5M163.78 505.72l5 -5M164.23 503.25h5M166.73 500.75v5M164.23 500.75l5 5M164.23 505.75l5 -5M164.69 503.28h5M167.19 500.78v5M164.69 500.78l5 5M164.69 505.78l5 -5M165.14 503.3h5M167.64 500.8v5M165.14 500.8l5 5M165.14 505.8l5 -5M165.6 503.33h5M168.1 500.83v5M165.6 500.83l5 5M165.6 505.83l5 -5M166.05 503.35h5M168.55 500.85v5M166.05 500.85l5 5M166.05 505.85l5 -5M166.5 503.38h5M169 500.88v5M166.5 500.88l5 5M166.5 505.88l5 -5M166.96 503.41h5M169.46 500.91v5M166.96 500.91l5 5M166.96 505.91l5 -5M167.41 503.43h5M169.91 500.93v5M167.41 500.93l5 5M167.41 505.93l5 -5M167.87 503.46h5M170.37 500.96v5M167.87 500.96l5 5M167.87 505.96l5 -5M168.32 503.48h5M170.82 500.98v5M168.32 500.98l5 5M168.32 505.98l5 -5M168.78 503.51h5M171.28 501.01v5M168.78 501.01l5 5M168.78 506.01l5 -5M169.23 503.53h5M171.73 501.03v5M169.23 501.03l5 5M169.23 506.03l5 -5M169.69 503.56h5M172.19 501.06v5M169.69 501.06l5 5M169.69 506.06l5 -5M170.14 503.59h5M172.64 501.09v5M170.14 501.09l5 5M170.14 506.09l5 -5M170.59 503.61h5M173.09 501.11v5M170.59 501.11l5 5M170.59 506.11l5 -5M171.05 503.64h5M173.55 501.14v5M171.05 501.14l5 5M171.05 506.14l5 -5M171.5 503.66h5M174 501.16v5M171.5 501.16l5 5M171.5 506.16l5 -5M171.96 503.69h5M174.46 501.19v5M171.96 501.19l5 5M171.96 506.19l5 -5M172.41 503.71h5M174.91 501.21v5M172.41 501.21l5 5M172.41 506.21l5 -5M172.87 503.74h5M175.37 501.24v5M172.87 501.24l5 5M172.87 506.24l5 -5M173.32 503.77h5M175.82 501.27v5M173.32 501.27l5 5M173.32 506.27l5 -5M173.78 503.79h5M176.28 501.29v5M173.78 501.29l5 5M173.78 506.29l5 -5M174.23 503.82h5M176.73 501.32v5M174.23 501.32l5 5M174.23 506.32l5 -5M174.68 503.84h5M177.18 501.34v5M174.68 501.34l5 5M174.68 506.34l5 -5M175.14 503.87h5M177.64 501.37v5M175.14 501.37l5 5M175.14 506.37l5 -5M175.59 503.9h5M178.09 501.4v5M175.59 501.4l5 5M175.59 506.4l5 -5M176.05 503.92h5M178.55 501.42v5M176.05 501.42l5 5M176.05 506.42l5 -5M176.5 503.95h5M179 501.45v5M176.5 501.45l5 5M176.5 506.45l5 -5M176.96 503.97h5M179.46 501.47v5M176.96 501.47l5 5M176.96 506.47l5 -5M177.41 504h5M179.91 501.5v5M177.41 501.5l5 5M177.41 506.5l5 -5M177.86 504.02h5M180.36 501.52v5M177.86 501.52l5 5M177.86 506.52l5 -5M178.32 504.05h5M180.82 501.55v5M178.32 501.55l5 5M178.32 506.55l5 -5M178.77 504.08h5M181.27 501.58v5M178.77 501.58l5 5M178.77 506.58l5 -5M179.23 504.1h5M181.73 501.6v5M179.23 501.6l5 5M179.23 506.6l5 -5M179.68 504.13h5M182.18 501.63v5M179.68 501.63l5 5M179.68 506.63l5 -5M180.14 504.15h5M182.64 501.65v5M180.14 501.65l5 5M180.14 506.65l5 -5M180.59 504.18h5M183.09 501.68v5M180.59 501.68l5 5M180.59 506.68l5 -5M181.05 504.21h5M183.55 501.71v5M181.05 501.71l5 5M181.05 506.71l5 -5M181.5 504.23h5M184 501.73v5M181.5 501.73l5 5M181.5 506.73l5 -5M181.95 504.26h5M184.45 501.76v5M181.95 501.76l5 5M181.95 506.76l5 -5M182.41 504.28h5M184.91 501.78v5M182.41 501.78l5 5M182.41 506.78l5 -5M182.86 504.31h5M185.36 501.81v5M182.86 501.81l5 5M182.86 506.81l5 -5M183.32 504.33h5M185.82 501.83v5M183.32 501.83l5 5M183.32 506.83l5 -5M183.77 504.36h5M186.27 501.86v5M183.77 501.86l5 5M183.77 506.86l5 -5M184.23 504.39h5M186.73 501.89v5M184.23 501.89l5 5M184.23 506.89l5 -5M184.68 504.41h5M187.18 501.91v5M184.68 501.91l5 5M184.68 506.91l5 -5M185.14 504.44h5M187.64 501.94v5M185.14 501.94l5 5M185.14 506.94l5 -5M185.59 504.46h5M188.09 501.96v5M185.59 501.96l5 5M185.59 506.96l5 -5M186.04 504.49h5M188.54 501.99v5M186.04 501.99l5 5M186.04 506.99l5 -5M186.5 504.51h5M189 502.01v5M186.5 502.01l5 5M186.5 507.01l5 -5M186.95 504.54h5M189.45 502.04v5M186.95 502.04l5 5M186.95 507.04l5 -5M187.41 504.57h5M189.91 502.07v5M187.41 502.07l5 5M187.41 507.07l5 -5M187.86 504.59h5M190.36 502.09v5M187.86 502.09l5 5M187.86 507.09l5 -5M188.32 504.77h5M190.82 502.27v5M188.32 502.27l5 5M188.32 507.27l5 -5M188.77 505.02h5M191.27 502.52v5M188.77 502.52l5 5M188.77 507.52l5 -5M189.22 505.26h5M191.72 502.76v5M189.22 502.76l5 5M189.22 507.76l5 -5M189.68 505.51h5M192.18 503.01v5M189.68 503.01l5 5M189.68 508.01l5 -5M190.13 505.76h5M192.63 503.26v5M190.13 503.26l5 5M190.13 508.26l5 -5M190.59 506h5M193.09 503.5v5M190.59 503.5l5 5M190.59 508.5l5 -5M191.04 506.25h5M193.54 503.75v5M191.04 503.75l5 5M191.04 508.75l5 -5M191.5 506.5h5M194 504v5M191.5 504l5 5M191.5 509l5 -5M191.95 507.82h5M194.45 505.32v5M191.95 505.32l5 5M191.95 510.32l5 -5M192.41 509.14h5M194.91 506.64v5M192.41 506.64l5 5M192.41 511.64l5 -5M192.86 510.47h5M195.36 507.97v5M192.86 507.97l5 5M192.86 512.97l5 -5M193.31 511.8h5M195.81 509.3v5M193.31 509.3l5 5M193.31 514.3l5 -5M193.77 513.12h5M196.27 510.62v5M193.77 510.62l5 5M193.77 515.62l5 -5M194.22 513.8h5M196.72 511.3v5M194.22 511.3l5 5M194.22 516.3l5 -5M194.68 513.81h5M197.18 511.31v5M194.68 511.31l5 5M194.68 516.31l5 -5M195.13 513.81h5M197.63 511.31v5M195.13 511.31l5 5M195.13 516.31l5 -5M195.59 513.82h5M198.09 511.32v5M195.59 511.32l5 5M195.59 516.32l5 -5M196.04 513.82h5M198.54 511.32v5M196.04 511.32l5 5M196.04 516.32l5 -5M196.5 513.82h5M199 511.32v5M196.5 511.32l5 5M196.5 516.32l5 -5M196.95 513.83h5M199.45 511.33v5M196.95 511.33l5 5M196.95 516.33l5 -5M197.4 513.83h5M199.9 511.33v5M197.4 511.33l5 5M197.4 516.33l5 -5M197.86 513.84h5M200.36 511.34v5M197.86 511.34l5 5M197.86 516.34l5 -5M198.31 513.84h5M200.81 511.34v5M198.31 511.34l5 5M198.31 516.34l5 -5M198.77 513.85h5M201.27 511.35v5M198.77 511.35l5 5M198.77 516.35l5 -5M199.22 513.85h5M201.72 511.35v5M199.22 511.35l5 5M199.22 516.35l5 -5M199.68 513.85h5M202.18 511.35v5M199.68 511.35l5 5M199.68 516.35l5 -5M200.13 513.86h5M202.63 511.36v5M200.13 511.36l5 5M200.13 516.36l5 -5M200.58 513.86h5M203.08 511.36v5M200.58 511.36l5 5M200.58 516.36l5 -5M201.04 513.87h5M203.54 511.37v5M201.04 511.37l5 5M201.04 516.37l5 -5M201.49 513.87h5M203.99 511.37v5M201.49 511.37l5 5M201.49 516.37l5 -5M201.95 513.88h5M204.45 511.38v5M201.95 511.38l5 5M201.95 516.38l5 -5M202.4 513.88h5M204.9 511.38v5M202.4 511.38l5 5M202.4 516.38l5 -5M202.86 513.88h5M205.36 511.38v5M202.86 511.38l5 5M202.86 516.38l5 -5M203.31 513.89h5M205.81 511.39v5M203.31 511.39l5 5M203.31 516.39l5 -5M203.77 513.89h5M206.27 511.39v5M203.77 511.39l5 5M203.77 516.39l5 -5M204.22 513.9h5M206.72 511.4v5M204.22 511.4l5 5M204.22 516.4l5 -5M204.67 513.9h5M207.17 511.4v5M204.67 511.4l5 5M204.67 516.4l5 -5M205.13 513.91h5M207.63 511.41v5M205.13 511.41l5 5M205.13 516.41l5 -5M205.58 513.92h5M208.08 511.42v5M205.58 511.42l5 5M205.58 516.42l5 -5M206.04 513.93h5M208.54 511.43v5M206.04 511.43l5 5M206.04 516.43l5 -5M206.49 513.94h5M208.99 511.44v5M206.49 511.44l5 5M206.49 516.44l5 -5M206.95 513.95h5M209.45 511.45v5M206.95 511.45l5 5M206.95 516.45l5 -5M207.4 513.96h5M209.9 511.46v5M207.4 511.46l5 5M207.4 516.46l5 -5M207.86 513.97h5M210.36 511.47v5M207.86 511.47l5 5M207.86 516.47l5 -5M208.31 513.98h5M210.81 511.48v5M208.31 511.48l5 5M208.31 516.48l5 -5M208.76 513.99h5M211.26 511.49v5M208.76 511.49l5 5M208.76 516.49l5 -5M209.22 514h5M211.72 511.5v5M209.22 511.5l5 5M209.22 516.5l5 -5M209.67 514.01h5M212.17 511.51v5M209.67 511.51l5 5M209.67 516.51l5 -5M210.13 514.02h5M212.63 511.52v5M210.13 511.52l5 5M210.13 516.52l5 -5M210.58 514.03h5M213.08 511.53v5M210.58 511.53l5 5M210.58 516.53l5 -5M211.04 514.04h5M213.54 511.54v5M211.04 511.54l5 5M211.04 516.54l5 -5M211.49 514.05h5M213.99 511.55v5M211.49 511.55l5 5M211.49 516.55l5 -5M211.94 514.06h5M214.44 511.56v5M211.94 511.56l5 5M211.94 516.56l5 -5M212.4 514.07h5M214.9 511.57v5M212.4 511.57l5 5M212.4 516.57l5 -5M212.85 514.08h5M215.35 511.58v5M212.85 511.58l5 5M212.85 516.58l5 -5M213.31 514.09h5M215.81 511.59v5M213.31 511.59l5 5M213.31 516.59l5 -5M213.76 514.1h5M216.26 511.6v5M213.76 511.6l5 5M213.76 516.6l5 -5M214.22 514.11h5M216.72 511.61v5M214.22 511.61l5 5M214.22 516.61l5 -5M214.67 514.12h5M217.17 511.62v5M214.67 511.62l5 5M214.67 516.62l5 -5M215.13 514.13h5M217.63 511.63v5M215.13 511.63l5 5M215.13 516.63l5 -5M215.58 514.14h5M218.08 511.64v5M215.58 511.64l5 5M215.58 516.64l5 -5M216.03 514.15h5M218.53 511.65v5M216.03 511.65l5 5M216.03 516.65l5 -5M216.49 514.16h5M218.99 511.66v5M216.49 511.66l5 5M216.49 516.66l5 -5M216.94 514.17h5M219.44 511.67v5M216.94 511.67l5 5M216.94 516.67l5 -5M217.4 514.18h5M219.9 511.68v5M217.4 511.68l5 5M217.4 516.68l5 -5M217.85 514.19h5M220.35 511.69v5M217.85 511.69l5 5M217.85 516.69l5 -5M218.31 514.2h5M220.81 511.7v5M218.31 511.7l5 5M218.31 516.7l5 -5M218.76 514.21h5M221.26 511.71v5M218.76 511.71l5 5M218.76 516.71l5 -5M219.22 514.22h5M221.72 511.72v5M219.22 511.72l5 5M219.22 516.72l5 -5M219.67 514.23h5M222.17 511.73v5M219.67 511.73l5 5M219.67 516.73l5 -5M220.12 514.24h5M222.62 511.74v5M220.12 511.74l5 5M220.12 516.74l5 -5M220.58 514.25h5M223.08 511.75v5M220.58 511.75l5 5M220.58 516.75l5 -5M221.03 514.26h5M223.53 511.76v5M221.03 511.76l5 5M221.03 516.76l5 -5M221.49 514.27h5M223.99 511.77v5M221.49 511.77l5 5M221.49 516.77l5 -5M221.94 514.28h5M224.44 511.78v5M221.94 511.78l5 5M221.94 516.78l5 -5M222.4 514.29h5M224.9 511.79v5M222.4 511.79l5 5M222.4 516.79l5 -5M222.85 514.3h5M225.35 511.8v5M222.85 511.8l5 5M222.85 516.8l5 -5M223.3 514.31h5M225.8 511.81v5M223.3 511.81l5 5M223.3 516.81l5 -5M223.76 514.32h5M226.26 511.82v5M223.76 511.82l5 5M223.76 516.82l5 -5M224.21 514.33h5M226.71 511.83v5M224.21 511.83l5 5M224.21 516.83l5 -5M224.67 514.34h5M227.17 511.84v5M224.67 511.84l5 5M224.67 516.84l5 -5M225.12 514.35h5M227.62 511.85v5M225.12 511.85l5 5M225.12 516.85l5 -5M225.58 514.36h5M228.08 511.86v5M225.58 511.86l5 5M225.58 516.86l5 -5M226.03 514.37h5M228.53 511.87v5M226.03 511.87l5 5M226.03 516.87l5 -5M226.49 514.38h5M228.99 511.88v5M226.49 511.88l5 5M226.49 516.88l5 -5M226.94 514.39h5M229.44 511.89v5M226.94 511.89l5 5M226.94 516.89l5 -5M227.39 514.4h5M229.89 511.9v5M227.39 511.9l5 5M227.39 516.9l5 -5M227.85 514.41h5M230.35 511.91v5M227.85 511.91l5 5M227.85 516.91l5 -5M228.3 514.42h5M230.8 511.92v5M228.3 511.92l5 5M228.3 516.92l5 -5M228.76 514.43h5M231.26 511.93v5M228.76 511.93l5 5M228.76 516.93l5 -5M229.21 514.44h5M231.71 511.94v5M229.21 511.94l5 5M229.21 516.94l5 -5M229.67 514.45h5M232.17 511.95v5M229.67 511.95l5 5M229.67 516.95l5 -5M230.12 514.45h5M232.62 511.95v5M230.12 511.95l5 5M230.12 516.95l5 -5M230.58 514.46h5M233.08 511.96v5M230.58 511.96l5 5M230.58 516.96l5 -5M231.03 514.47h5M233.53 511.97v5M231.03 511.97l5 5M231.03 516.97l5 -5M231.48 514.48h5M233.98 511.98v5M231.48 511.98l5 5M231.48 516.98l5 -5M231.94 514.49h5M234.44 511.99v5M231.94 511.99l5 5M231.94 516.99l5 -5M232.39 514.5h5M234.89 512v5M232.39 512l5 5M232.39 517l5 -5M232.85 514.51h5M235.35 512.01v5M232.85 512.01l5 5M232.85 517.01l5 -5M233.3 514.52h5M235.8 512.02v5M233.3 512.02l5 5M233.3 517.02l5 -5M233.76 514.53h5M236.26 512.03v5M233.76 512.03l5 5M233.76 517.03l5 -5M234.21 514.54h5M236.71 512.04v5M234.21 512.04l5 5M234.21 517.04l5 -5M234.66 514.55h5M237.16 512.05v5M234.66 512.05l5 5M234.66 517.05l5 -5M235.12 514.56h5M237.62 512.06v5M235.12 512.06l5 5M235.12 517.06l5 -5M235.57 514.57h5M238.07 512.07v5M235.57 512.07l5 5M235.57 517.07l5 -5M236.03 514.58h5M238.53 512.08v5M236.03 512.08l5 5M236.03 517.08l5 -5M236.48 514.59h5M238.98 512.09v5M236.48 512.09l5 5M236.48 517.09l5 -5M236.94 514.6h5M239.44 512.1v5M236.94 512.1l5 5M236.94 517.1l5 -5M237.39 514.61h5M239.89 512.11v5M237.39 512.11l5 5M237.39 517.11l5 -5M237.85 514.62h5M240.35 512.12v5M237.85 512.12l5 5M237.85 517.12l5 -5M238.3 514.62h5M240.8 512.12v5M238.3 512.12l5 5M238.3 517.12l5 -5M238.75 514.63h5M241.25 512.13v5M238.75 512.13l5 5M238.75 517.13l5 -5M239.21 514.64h5M241.71 512.14v5M239.21 512.14l5 5M239.21 517.14l5 -5M239.66 514.65h5M242.16 512.15v5M239.66 512.15l5 5M239.66 517.15l5 -5M240.12 514.66h5M242.62 512.16v5M240.12 512.16l5 5M240.12 517.16l5 -5M240.57 514.67h5M243.07 512.17v5M240.57 512.17l5 5M240.57 517.17l5 -5M241.03 514.68h5M243.53 512.18v5M241.03 512.18l5 5M241.03 517.18l5 -5M241.48 514.69h5M243.98 512.19v5M241.48 512.19l5 5M241.48 517.19l5 -5M241.94 514.7h5M244.44 512.2v5M241.94 512.2l5 5M241.94 517.2l5 -5M242.39 514.71h5M244.89 512.21v5M242.39 512.21l5 5M242.39 517.21l5 -5M242.84 514.72h5M245.34 512.22v5M242.84 512.22l5 5M242.84 517.22l5 -5M243.3 514.73h5M245.8 512.23v5M243.3 512.23l5 5M243.3 517.23l5 -5M243.75 514.74h5M246.25 512.24v5M243.75 512.24l5 5M243.75 517.24l5 -5M244.21 514.75h5M246.71 512.25v5M244.21 512.25l5 5M244.21 517.25l5 -5M244.66 514.76h5M247.16 512.26v5M244.66 512.26l5 5M244.66 517.26l5 -5M245.12 514.77h5M247.62 512.27v5M245.12 512.27l5 5M245.12 517.27l5 -5M245.57 514.78h5M248.07 512.28v5M245.57 512.28l5 5M245.57 517.28l5 -5M246.02 514.79h5M248.52 512.29v5M246.02 512.29l5 5M246.02 517.29l5 -5M246.48 514.8h5M248.98 512.3v5M246.48 512.3l5 5M246.48 517.3l5 -5M246.93 514.8h5M249.43 512.3v5M246.93 512.3l5 5M246.93 517.3l5 -5M247.39 514.81h5M249.89 512.31v5M247.39 512.31l5 5M247.39 517.31l5 -5M247.84 514.82h5M250.34 512.32v5M247.84 512.32l5 5M247.84 517.32l5 -5M248.3 514.83h5M250.8 512.33v5M248.3 512.33l5 5M248.3 517.33l5 -5M248.75 514.84h5M251.25 512.34v5M248.75 512.34l5 5M248.75 517.34l5 -5M249.21 514.85h5M251.71 512.35v5M249.21 512.35l5 5M249.21 517.35l5 -5M249.66 514.86h5M252.16 512.36v5M249.66 512.36l5 5M249.66 517.36l5 -5" stroke="#0000ff" stroke-width="0.9" fill="none"/>
<path d="M59.85 437.15h5.2v5.2h-5.2zM60.98 429.3h5.2v5.2h-5.2zM61.44 429.3h5.2v5.2h-5.2zM61.89 429.3h5.2v5.2h-5.2zM62.35 429.3h5.2v5.2h-5.2zM62.8 429.3h5.2v5.2h-5.2zM63.26 429.3h5.2v5.2h-5.2zM63.71 429.3h5.2v5.2h-5.2zM64.16 429.3h5.2v5.2h-5.2zM64.62 429.3h5.2v5.2h-5.2zM65.07 429.3h5.2v5.2h-5.2zM65.53 429.3h5.2v5.2h-5.2zM65.98 429.3h5.2v5.2h-5.2zM66.44 429.3h5.2v5.2h-5.2zM66.89 429.3h5.2v5.2h-5.2zM67.35 429.3h5.2v5.2h-5.2zM67.8 429.3h5.2v5.2h-5.2zM68.25 429.3h5.2v5.2h-5.2zM68.71 432.4h5.2v5.2h-5.2zM69.16 432.4h5.2v5.2h-5.2zM69.62 432.4h5.2v5.2h-5.2zM70.07 432.4h5.2v5.2h-5.2zM70.53 432.4h5.2v5.2h-5.2zM70.98 432.4h5.2v5.2h-5.2zM71.44 432.4h5.2v5.2h-5.2zM71.89 432.4h5.2v5.2h-5.2zM72.34 432.4h5.2v5.2h-5.2zM72.8 432.4h5.2v5.2h-5.2zM73.25 432.4h5.2v5.2h-5.2zM73.71 432.4h5.2v5.2h-5.2zM74.16 432.4h5.2v5.2h-5.2zM74.62 433.71h5.2v5.2h-5.2zM75.07 435.8h5.2v5.2h-5.2zM75.52 435.8h5.2v5.2h-5.2zM75.98 435.8h5.2v5.2h-5.2zM76.43 435.8h5.2v5.2h-5.2zM76.89 435.8h5.2v5.2h-5.2zM77.34 435.8h5.2v5.2h-5.2zM77.8 435.8h5.2v5.2h-5.2zM78.25 435.8h5.2v5.2h-5.2zM78.71 435.8h5.2v5.2h-5.2zM79.16 435.8h5.2v5.2h-5.2zM79.61 437.19h5.2v5.2h-5.2zM80.07 441.09h5.2v5.2h-5.2zM80.52 444.79h5.2v5.2h-5.2zM80.98 446.24h5.2v5.2h-5.2zM81.43 447.68h5.2v5.2h-5.2zM81.89 449.13h5.2v5.2h-5.2zM82.34 450.58h5.2v5.2h-5.2zM82.8 451.99h5.2v5.2h-5.2zM83.25 453.38h5.2v5.2h-5.2zM83.7 454.76h5.2v5.2h-5.2zM84.16 456.14h5.2v5.2h-5.2zM84.61 457.53h5.2v5.2h-5.2zM85.07 459.07h5.2v5.2h-5.2zM85.52 460.89h5.2v5.2h-5.2zM85.98 462.7h5.2v5.2h-5.2zM86.43 464.56h5.2v5.2h-5.2zM86.88 467.03h5.2v5.2h-5.2zM87.34 469.49h5.2v5.2h-5.2zM87.79 472.35h5.2v5.2h-5.2zM88.25 475.76h5.2v5.2h-5.2zM88.7 478.11h5.2v5.2h-5.2zM89.16 478.94h5.2v5.2h-5.2zM89.61 479.02h5.2v5.2h-5.2zM90.07 479.1h5.2v5.2h-5.2zM90.52 479.18h5.2v5.2h-5.2zM90.97 479.26h5.2v5.2h-5.2zM91.43 479.34h5.2v5.2h-5.2zM91.88 479.58h5.2v5.2h-5.2zM92.34 480.59h5.2v5.2h-5.2zM92.79 481.79h5.2v5.2h-5.2zM93.25 483.74h5.2v5.2h-5.2zM93.7 490.42h5.2v5.2h-5.2zM94.16 497.64h5.2v5.2h-5.2zM94.61 498.3h5.2v5.2h-5.2zM95.06 498.31h5.2v5.2h-5.2zM95.52 498.31h5.2v5.2h-5.2zM95.97 498.32h5.2v5.2h-5.2zM96.43 498.32h5.2v5.2h-5.2zM96.88 498.33h5.2v5.2h-5.2zM97.34 498.33h5.2v5.2h-5.2zM97.79 498.33h5.2v5.2h-5.2zM98.24 498.34h5.2v5.2h-5.2zM98.7 498.34h5.2v5.2h-5.2zM99.15 498.35h5.2v5.2h-5.2zM99.61 498.35h5.2v5.2h-5.2zM100.06 498.36h5.2v5.2h-5.2zM100.52 498.36h5.2v5.2h-5.2zM100.97 498.36h5.2v5.2h-5.2zM101.43 498.37h5.2v5.2h-5.2zM101.88 498.37h5.2v5.2h-5.2zM102.33 498.38h5.2v5.2h-5.2zM102.79 498.38h5.2v5.2h-5.2zM103.24 498.38h5.2v5.2h-5.2zM103.7 498.39h5.2v5.2h-5.2zM104.15 498.39h5.2v5.2h-5.2zM104.61 498.4h5.2v5.2h-5.2zM105.06 498.4h5.2v5.2h-5.2zM105.52 498.41h5.2v5.2h-5.2zM105.97 498.41h5.2v5.2h-5.2zM106.42 498.41h5.2v5.2h-5.2zM106.88 498.42h5.2v5.2h-5.2zM107.33 498.42h5.2v5.2h-5.2zM107.79 498.43h5.2v5.2h-5.2zM108.24 498.43h5.2v5.2h-5.2zM108.7 498.44h5.2v5.2h-5.2zM109.15 498.44h5.2v5.2h-5.2zM109.6 498.44h5.2v5.2h-5.2zM110.06 498.45h5.2v5.2h-5.2zM110.51 498.45h5.2v5.2h-5.2zM110.97 498.46h5.2v5.2h-5.2zM111.42 498.46h5.2v5.2h-5.2zM111.88 498.47h5.2v5.2h-5.2zM112.33 498.47h5.2v5.2h-5.2zM112.79 498.47h5.2v5.2h-5.2zM113.24 498.48h5.2v5.2h-5.2zM113.69 498.48h5.2v5.2h-5.2zM114.15 498.49h5.2v5.2h-5.2zM114.6 498.49h5.2v5.2h-5.2zM115.06 498.5h5.2v5.2h-5.2zM115.51 498.5h5.2v5.2h-5.2zM115.97 498.5h5.2v5.2h-5.2zM116.42 498.51h5.2v5.2h-5.2zM116.88 498.51h5.2v5.2h-5.2zM117.33 498.52h5.2v5.2h-5.2zM117.78 498.52h5.2v5.2h-5.2zM118.24 498.53h5.2v5.2h-5.2zM118.69 498.53h5.2v5.2h-5.2zM119.15 498.53h5.2v5.2h-5.2zM119.6 498.54h5.2v5.2h-5.2zM120.06 498.54h5.2v5.2h-5.2zM120.51 498.55h5.2v5.2h-5.2zM120.96 498.55h5.2v5.2h-5.2zM121.42 498.56h5.2v5.2h-5.2zM121.87 498.56h5.2v5.2h-5.2zM122.33 498.56h5.2v5.2h-5.2zM122.78 498.57h5.2v5.2h-5.2zM123.24 498.57h5.2v5.2h-5.2zM123.69 498.58h5.2v5.2h-5.2zM124.15 498.58h5.2v5.2h-5.2zM124.6 498.59h5.2v5.2h-5.2zM125.05 498.59h5.2v5.2h-5.2zM125.51 498.59h5.2v5.2h-5.2zM125.96 498.6h5.2v5.2h-5.2zM126.42 498.6h5.2v5.2h-5.2zM126.87 498.61h5.2v5.2h-5.2zM127.33 498.61h5.2v5.2h-5.2zM127.78 498.62h5.2v5.2h-5.2zM128.24 498.62h5.2v5.2h-5.2zM128.69 498.62h5.2v5.2h-5.2zM129.14 498.63h5.2v5.2h-5.2zM129.6 498.63h5.2v5.2h-5.2zM130.05 498.64h5.2v5.2h-5.2zM130.51 498.64h5.2v5.2h-5.2zM130.96 498.65h5.2v5.2h-5.2zM131.42 498.65h5.2v5.2h-5.2zM131.87 498.65h5.2v5.2h-5.2zM132.32 498.66h5.2v5.2h-5.2zM132.78 498.66h5.2v5.2h-5.2zM133.23 498.67h5.2v5.2h-5.2zM133.69 498.67h5.2v5.2h-5.2zM134.14 498.68h5.2v5.2h-5.2zM134.6 498.68h5.2v5.2h-5.2zM135.05 498.68h5.2v5.2h-5.2zM135.51 498.69h5.2v5.2h-5.2zM135.96 498.69h5.2v5.2h-5.2zM136.41 498.7h5.2v5.2h-5.2zM136.87 498.7h5.2v5.2h-5.2zM137.32 498.71h5.2v5.2h-5.2zM137.78 498.71h5.2v5.2h-5.2zM138.23 498.71h5.2v5.2h-5.2zM138.69 498.72h5.2v5.2h-5.2zM139.14 498.72h5.2v5.2h-5.2zM139.6 498.73h5.2v5.2h-5.2zM140.05 498.73h5.2v5.2h-5.2zM140.5 498.74h5.2v5.2h-5.2zM140.96 498.74h5.2v5.2h-5.2zM141.41 498.74h5.2v5.2h-5.2zM141.87 498.75h5.2v5.2h-5.2zM142.32 498.75h5.2v5.2h-5.2zM142.78 498.76h5.2v5.2h-5.2zM143.23 498.76h5.2v5.2h-5.2zM143.68 498.77h5.2v5.2h-5.2zM144.14 498.77h5.2v5.2h-5.2zM144.59 498.77h5.2v5.2h-5.2zM145.05 498.78h5.2v5.2h-5.2zM145.5 498.78h5.2v5.2h-5.2zM145.96 498.79h5.2v5.2h-5.2zM146.41 498.79h5.2v5.2h-5.2zM146.87 498.79h5.2v5.2h-5.2zM147.32 498.8h5.2v5.2h-5.2zM147.77 498.81h5.2v5.2h-5.2zM148.23 498.83h5.2v5.2h-5.2zM148.68 498.84h5.2v5.2h-5.2zM149.14 498.86h5.2v5.2h-5.2zM149.59 498.87h5.2v5.2h-5.2zM150.05 498.89h5.2v5.2h-5.2zM150.5 498.9h5.2v5.2h-5.2zM150.96 498.92h5.2v5.2h-5.2zM151.41 498.93h5.2v5.2h-5.2zM151.86 498.95h5.2v5.2h-5.2zM152.32 498.96h5.2v5.2h-5.2zM152.77 498.98h5.2v5.2h-5.2zM153.23 498.99h5.2v5.2h-5.2zM153.68 499.01h5.2v5.2h-5.2zM154.14 499.02h5.2v5.2h-5.2zM154.59 499.04h5.2v5.2h-5.2zM155.04 499.05h5.2v5.2h-5.2zM155.5 499.07h5.2v5.2h-5.2zM155.95 499.09h5.2v5.2h-5.2zM156.41 499.1h5.2v5.2h-5.2zM156.86 499.12h5.2v5.2h-5.2zM157.32 499.13h5.2v5.2h-5.2zM157.77 499.15h5.2v5.2h-5.2zM158.23 499.16h5.2v5.2h-5.2zM158.68 499.18h5.2v5.2h-5.2zM159.13 499.19h5.2v5.2h-5.2zM159.59 499.21h5.2v5.2h-5.2zM160.04 499.22h5.2v5.2h-5.2zM160.5 499.24h5.2v5.2h-5.2zM160.95 499.25h5.2v5.2h-5.2zM161.41 499.27h5.2v5.2h-5.2zM161.86 499.28h5.2v5.2h-5.2zM162.32 499.3h5.2v5.2h-5.2zM162.77 499.31h5.2v5.2h-5.2zM163.22 499.33h5.2v5.2h-5.2zM163.68 499.34h5.2v5.2h-5.2zM164.13 499.36h5.2v5.2h-5.2zM164.59 499.37h5.2v5.2h-5.2zM165.04 499.39h5.2v5.2h-5.2zM165.5 499.4h5.2v5.2h-5.2zM165.95 499.42h5.2v5.2h-5.2zM166.4 499.43h5.2v5.2h-5.2zM166.86 499.45h5.2v5.2h-5.2zM167.31 499.46h5.2v5.2h-5.2zM167.77 499.48h5.2v5.2h-5.2zM168.22 499.49h5.2v5.2h-5.2zM168.68 499.51h5.2v5.2h-5.2zM169.13 499.52h5.2v5.2h-5.2zM169.59 499.54h5.2v5.2h-5.2zM170.04 499.55h5.2v5.2h-5.2zM170.49 499.57h5.2v5.2h-5.2zM170.95 499.58h5.2v5.2h-5.2zM171.4 499.6h5.2v5.2h-5.2zM171.86 499.62h5.2v5.2h-5.2zM172.31 499.63h5.2v5.2h-5.2zM172.77 499.65h5.2v5.2h-5.2zM173.22 499.66h5.2v5.2h-5.2zM173.68 499.68h5.2v5.2h-5.2zM174.13 499.69h5.2v5.2h-5.2zM174.58 499.71h5.2v5.2h-5.2zM175.04 499.72h5.2v5.2h-5.2zM175.49 499.74h5.2v5.2h-5.2zM175.95 499.75h5.2v5.2h-5.2zM176.4 499.77h5.2v5.2h-5.2zM176.86 499.78h5.2v5.2h-5.2zM177.31 499.8h5.2v5.2h-5.2zM177.76 499.83h5.2v5.2h-5.2zM178.22 499.86h5.2v5.2h-5.2zM178.67 499.89h5.2v5.2h-5.2zM179.13 499.92h5.2v5.2h-5.2zM179.58 499.96h5.2v5.2h-5.2zM180.04 499.99h5.2v5.2h-5.2zM180.49 500.02h5.2v5.2h-5.2zM180.95 500.05h5.2v5.2h-5.2zM181.4 500.09h5.2v5.2h-5.2zM181.85 500.12h5.2v5.2h-5.2zM182.31 500.15h5.2v5.2h-5.2zM182.76 500.18h5.2v5.2h-5.2zM183.22 500.22h5.2v5.2h-5.2zM183.67 500.25h5.2v5.2h-5.2zM184.13 500.28h5.2v5.2h-5.2zM184.58 500.31h5.2v5.2h-5.2zM185.04 500.35h5.2v5.2h-5.2zM185.49 500.38h5.2v5.2h-5.2zM185.94 500.41h5.2v5.2h-5.2zM186.4 500.44h5.2v5.2h-5.2zM186.85 500.48h5.2v5.2h-5.2zM187.31 500.51h5.2v5.2h-5.2zM187.76 500.54h5.2v5.2h-5.2zM188.22 500.57h5.2v5.2h-5.2zM188.67 500.61h5.2v5.2h-5.2zM189.12 500.64h5.2v5.2h-5.2zM189.58 500.67h5.2v5.2h-5.2zM190.03 500.7h5.2v5.2h-5.2zM190.49 500.73h5.2v5.2h-5.2zM190.94 500.77h5.2v5.2h-5.2zM191.4 500.8h5.2v5.2h-5.2zM191.85 502.24h5.2v5.2h-5.2zM192.31 502.4h5.2v5.2h-5.2zM192.76 502.41h5.2v5.2h-5.2zM193.21 502.41h5.2v5.2h-5.2zM193.67 502.41h5.2v5.2h-5.2zM194.12 502.42h5.2v5.2h-5.2zM194.58 502.42h5.2v5.2h-5.2zM195.03 502.42h5.2v5.2h-5.2zM195.49 502.42h5.2v5.2h-5.2zM195.94 502.43h5.2v5.2h-5.2zM196.4 502.43h5.2v5.2h-5.2zM196.85 502.43h5.2v5.2h-5.2zM197.3 502.44h5.2v5.2h-5.2zM197.76 502.44h5.2v5.2h-5.2zM198.21 502.44h5.2v5.2h-5.2zM198.67 502.45h5.2v5.2h-5.2zM199.12 502.45h5.2v5.2h-5.2zM199.58 502.45h5.2v5.2h-5.2zM200.03 502.46h5.2v5.2h-5.2zM200.48 502.46h5.2v5.2h-5.2zM200.94 502.46h5.2v5.2h-5.2zM201.39 502.46h5.2v5.2h-5.2zM201.85 502.47h5.2v5.2h-5.2zM202.3 502.47h5.2v5.2h-5.2zM202.76 502.47h5.2v5.2h-5.2zM203.21 502.48h5.2v5.2h-5.2zM203.67 502.48h5.2v5.2h-5.2zM204.12 502.48h5.2v5.2h-5.2zM204.57 502.49h5.2v5.2h-5.2zM205.03 502.49h5.2v5.2h-5.2zM205.48 502.49h5.2v5.2h-5.2zM205.94 502.5h5.2v5.2h-5.2zM206.39 502.5h5.2v5.2h-5.2zM206.85 505.46h5.2v5.2h-5.2zM207.3 509.7h5.2v5.2h-5.2zM207.76 509.72h5.2v5.2h-5.2zM208.21 509.73h5.2v5.2h-5.2zM208.66 509.74h5.2v5.2h-5.2zM209.12 509.75h5.2v5.2h-5.2zM209.57 509.76h5.2v5.2h-5.2zM210.03 509.78h5.2v5.2h-5.2zM210.48 509.79h5.2v5.2h-5.2zM210.94 509.8h5.2v5.2h-5.2zM211.39 509.81h5.2v5.2h-5.2zM211.84 509.83h5.2v5.2h-5.2zM212.3 509.84h5.2v5.2h-5.2zM212.75 509.85h5.2v5.2h-5.2zM213.21 509.86h5.2v5.2h-5.2zM213.66 509.88h5.2v5.2h-5.2zM214.12 509.89h5.2v5.2h-5.2zM214.57 509.9h5.2v5.2h-5.2zM215.03 509.91h5.2v5.2h-5.2zM215.48 509.92h5.2v5.2h-5.2zM215.93 509.94h5.2v5.2h-5.2zM216.39 509.95h5.2v5.2h-5.2zM216.84 509.96h5.2v5.2h-5.2zM217.3 509.97h5.2v5.2h-5.2zM217.75 509.99h5.2v5.2h-5.2zM218.21 510h5.2v5.2h-5.2zM218.66 510.01h5.2v5.2h-5.2zM219.12 510.02h5.2v5.2h-5.2zM219.57 510.04h5.2v5.2h-5.2zM220.02 510.05h5.2v5.2h-5.2zM220.48 510.06h5.2v5.2h-5.2zM220.93 510.07h5.2v5.2h-5.2zM221.39 510.09h5.2v5.2h-5.2zM221.84 510.1h5.2v5.2h-5.2zM222.3 510.11h5.2v5.2h-5.2zM222.75 510.12h5.2v5.2h-5.2zM223.2 510.13h5.2v5.2h-5.2zM223.66 510.15h5.2v5.2h-5.2zM224.11 510.16h5.2v5.2h-5.2zM224.57 510.17h5.2v5.2h-5.2zM225.02 510.18h5.2v5.2h-5.2zM225.48 510.2h5.2v5.2h-5.2zM225.93 510.21h5.2v5.2h-5.2zM226.39 510.22h5.2v5.2h-5.2zM226.84 510.23h5.2v5.2h-5.2zM227.29 510.25h5.2v5.2h-5.2zM227.75 510.26h5.2v5.2h-5.2zM228.2 510.27h5.2v5.2h-5.2zM228.66 510.28h5.2v5.2h-5.2zM229.11 510.29h5.2v5.2h-5.2zM229.57 510.31h5.2v5.2h-5.2zM230.02 510.32h5.2v5.2h-5.2zM230.48 510.33h5.2v5.2h-5.2zM230.93 510.34h5.2v5.2h-5.2zM231.38 510.36h5.2v5.2h-5.2zM231.84 510.37h5.2v5.2h-5.2zM232.29 510.38h5.2v5.2h-5.2zM232.75 510.39h5.2v5.2h-5.2zM233.2 510.41h5.2v5.2h-5.2zM233.66 510.42h5.2v5.2h-5.2zM234.11 510.43h5.2v5.2h-5.2zM234.56 510.44h5.2v5.2h-5.2zM235.02 510.46h5.2v5.2h-5.2zM235.47 510.47h5.2v5.2h-5.2zM235.93 510.48h5.2v5.2h-5.2zM236.38 510.49h5.2v5.2h-5.2zM236.84 510.5h5.2v5.2h-5.2zM237.29 510.52h5.2v5.2h-5.2zM237.75 510.53h5.2v5.2h-5.2zM238.2 510.54h5.2v5.2h-5.2zM238.65 510.55h5.2v5.2h-5.2zM239.11 510.57h5.2v5.2h-5.2zM239.56 510.58h5.2v5.2h-5.2zM240.02 510.59h5.2v5.2h-5.2zM240.47 510.6h5.2v5.2h-5.2zM240.93 510.62h5.2v5.2h-5.2zM241.38 510.63h5.2v5.2h-5.2zM241.84 510.64h5.2v5.2h-5.2zM242.29 510.65h5.2v5.2h-5.2zM242.74 510.66h5.2v5.2h-5.2zM243.2 510.68h5.2v5.2h-5.2zM243.65 510.69h5.2v5.2h-5.2zM244.11 510.7h5.2v5.2h-5.2zM244.56 510.71h5.2v5.2h-5.2zM245.02 510.73h5.2v5.2h-5.2zM245.47 510.74h5.2v5.2h-5.2zM245.92 510.75h5.2v5.2h-5.2zM246.38 510.76h5.2v5.2h-5.2zM246.83 510.78h5.2v5.2h-5.2zM247.29 510.79h5.2v5.2h-5.2zM247.74 510.8h5.2v5.2h-5.2zM248.2 510.81h5.2v5.2h-5.2zM248.65 510.83h5.2v5.2h-5.2zM249.11 510.84h5.2v5.2h-5.2zM249.56 510.85h5.2v5.2h-5.2z" stroke="#ff00ff" stroke-width="0.9" fill="none"/>
<path d="M220.8 421h4.6M223.1 418.7v4.6" stroke="#ff0000" stroke-width="0.6" fill="none"/>
<path d="M220.6 429.47l5 5M220.6 434.47l5 -5" stroke="#00ff00" stroke-width="0.7" fill="none"/>
<path d="M220.6 442.94h5M223.1 440.44v5M220.6 440.44l5 5M220.6 445.44l5 -5" stroke="#0000ff" stroke-width="0.7" fill="none"/>
<path d="M220.5 451.31h5.2v5.2h-5.2z" stroke="#ff00ff" stroke-width="0.8" fill="none"/>
<path d="M339.5 561.5v-5M339.5 410.5v5M362.28 561.5v-5M362.28 410.5v5M385.05 561.5v-5M385.05 410.5v5M407.83 561.5v-5M407.83 410.5v5M430.61 561.5v-5M430.61 410.5v5M453.38 561.5v-5M453.38 410.5v5M476.16 561.5v-5M476.16 410.5v5M498.94 561.5v-5M498.94 410.5v5M521.71 561.5v-5M521.71 410.5v5M544.49 561.5v-5M544.49 410.5v5M339.5 419.94h5M549.5 419.94h-5M339.5 438.81h5M549.5 438.81h-5M339.5 457.69h5M549.5 457.69h-5M339.5 476.56h5M549.5 476.56h-5M339.5 495.44h5M549.5 495.44h-5M339.5 514.31h5M549.5 514.31h-5M339.5 533.19h5M549.5 533.19h-5M339.5 552.06h5M549.5 552.06h-5" stroke="#000" stroke-width="1" fill="none"/>
<path d="M357.75 444.8h5.1M360.3 442.25v5.1M358.35 444.8h5.1M360.9 442.25v5.1M358.65 489.5h5.1M361.2 486.95v5.1M358.36 527.75h5.1M360.91 525.2v5.1M358.82 527.82h5.1M361.37 525.27v5.1M359.27 527.89h5.1M361.82 525.34v5.1M359.73 527.96h5.1M362.28 525.41v5.1M360.18 528.04h5.1M362.73 525.49v5.1M360.64 528.11h5.1M363.19 525.56v5.1M361.09 528.18h5.1M363.64 525.63v5.1M361.55 528.26h5.1M364.1 525.71v5.1M362 528.33h5.1M364.55 525.78v5.1M362.46 528.4h5.1M365.01 525.85v5.1M362.92 528.53h5.1M365.47 525.98v5.1M363.37 528.66h5.1M365.92 526.11v5.1M363.83 528.79h5.1M366.38 526.24v5.1M364.28 528.91h5.1M366.83 526.36v5.1M364.74 529.04h5.1M367.29 526.49v5.1M365.19 529.17h5.1M367.74 526.62v5.1M365.65 529.3h5.1M368.2 526.75v5.1M366.1 529.42h5.1M368.65 526.87v5.1M366.56 529.55h5.1M369.11 527v5.1M367.02 529.68h5.1M369.57 527.13v5.1M367.47 529.81h5.1M370.02 527.26v5.1M367.93 529.96h5.1M370.48 527.41v5.1M368.38 530.12h5.1M370.93 527.57v5.1M368.84 530.27h5.1M371.39 527.72v5.1M369.29 530.43h5.1M371.84 527.88v5.1M369.75 530.58h5.1M372.3 528.03v5.1M370.2 530.74h5.1M372.75 528.19v5.1M370.66 530.89h5.1M373.21 528.34v5.1M371.11 531.04h5.1M373.66 528.49v5.1M371.57 531.2h5.1M374.12 528.65v5.1M372.03 531.35h5.1M374.58 528.8v5.1M372.48 531.51h5.1M375.03 528.96v5.1M372.94 531.71h5.1M375.49 529.16v5.1M373.39 531.98h5.1M375.94 529.43v5.1M373.85 532.25h5.1M376.4 529.7v5.1M374.3 532.52h5.1M376.85 529.97v5.1M374.76 532.79h5.1M377.31 530.24v5.1M375.21 533.07h5.1M377.76 530.52v5.1M375.67 533.34h5.1M378.22 530.79v5.1M376.13 533.61h5.1M378.68 531.06v5.1M376.58 533.9h5.1M379.13 531.35v5.1M377.04 534.25h5.1M379.59 531.7v5.1M377.49 534.6h5.1M380.04 532.05v5.1M377.95 534.95h5.1M380.5 532.4v5.1M378.4 535.29h5.1M380.95 532.74v5.1M378.86 535.64h5.1M381.41 533.09v5.1M379.31 535.99h5.1M381.86 533.44v5.1M379.77 536.34h5.1M382.32 533.79v5.1M380.23 536.7h5.1M382.78 534.15v5.1M380.68 537.07h5.1M383.23 534.52v5.1M381.14 537.44h5.1M383.69 534.89v5.1M381.59 537.8h5.1M384.14 535.25v5.1M382.05 538.17h5.1M384.6 535.62v5.1M382.5 538.54h5.1M385.05 535.99v5.1M382.96 538.9h5.1M385.51 536.35v5.1M383.41 539.27h5.1M385.96 536.72v5.1M383.87 539.7h5.1M386.42 537.15v5.1M384.33 540.12h5.1M386.88 537.57v5.1M384.78 540.55h5.1M387.33 538v5.1M385.24 540.98h5.1M387.79 538.43v5.1M385.69 541.41h5.1M388.24 538.86v5.1M386.15 541.84h5.1M388.7 539.29v5.1M386.6 542.27h5.1M389.15 539.72v5.1M387.06 542.74h5.1M389.61 540.19v5.1M387.51 543.26h5.1M390.06 540.71v5.1M387.97 543.78h5.1M390.52 541.23v5.1M388.43 544.3h5.1M390.98 541.75v5.1M388.88 544.82h5.1M391.43 542.27v5.1M389.34 545.34h5.1M391.89 542.79v5.1M389.79 545.86h5.1M392.34 543.31v5.1M390.25 546.38h5.1M392.8 543.83v5.1M390.7 547.08h5.1M393.25 544.53v5.1M391.16 547.83h5.1M393.71 545.28v5.1M391.61 548.58h5.1M394.16 546.03v5.1M392.07 549.33h5.1M394.62 546.78v5.1M392.52 550.07h5.1M395.07 547.52v5.1M392.98 550.81h5.1M395.53 548.26v5.1M393.44 551.55h5.1M395.99 549v5.1M393.89 551.9h5.1M396.44 549.35v5.1M394.35 551.9h5.1M396.9 549.35v5.1M394.8 551.9h5.1M397.35 549.35v5.1M395.26 551.9h5.1M397.81 549.35v5.1M395.71 551.9h5.1M398.26 549.35v5.1M396.17 551.9h5.1M398.72 549.35v5.1M396.62 551.9h5.1M399.17 549.35v5.1M397.08 551.9h5.1M399.63 549.35v5.1M397.54 551.9h5.1M400.09 549.35v5.1M397.99 551.9h5.1M400.54 549.35v5.1M398.45 551.9h5.1M401 549.35v5.1M398.9 551.9h5.1M401.45 549.35v5.1M399.36 551.9h5.1M401.91 549.35v5.1M399.81 551.9h5.1M402.36 549.35v5.1M400.27 551.9h5.1M402.82 549.35v5.1M400.72 551.9h5.1M403.27 549.35v5.1M401.18 551.9h5.1M403.73 549.35v5.1M401.64 551.91h5.1M404.19 549.36v5.1M402.09 551.91h5.1M404.64 549.36v5.1M402.55 551.91h5.1M405.1 549.36v5.1M403 551.91h5.1M405.55 549.36v5.1M403.46 551.91h5.1M406.01 549.36v5.1M403.91 551.91h5.1M406.46 549.36v5.1M404.37 551.91h5.1M406.92 549.36v5.1M404.82 551.91h5.1M407.37 549.36v5.1M405.28 551.91h5.1M407.83 549.36v5.1M405.74 551.91h5.1M408.29 549.36v5.1M406.19 551.91h5.1M408.74 549.36v5.1M406.65 551.91h5.1M409.2 549.36v5.1M407.1 551.91h5.1M409.65 549.36v5.1M407.56 551.91h5.1M410.11 549.36v5.1M408.01 551.91h5.1M410.56 549.36v5.1M408.47 551.91h5.1M411.02 549.36v5.1M408.92 551.91h5.1M411.47 549.36v5.1M409.38 551.91h5.1M411.93 549.36v5.1M409.84 551.91h5.1M412.39 549.36v5.1M410.29 551.91h5.1M412.84 549.36v5.1M410.75 551.91h5.1M413.3 549.36v5.1M411.2 551.91h5.1M413.75 549.36v5.1M411.66 551.91h5.1M414.21 549.36v5.1M412.11 551.91h5.1M414.66 549.36v5.1M412.57 551.91h5.1M415.12 549.36v5.1M413.02 551.91h5.1M415.57 549.36v5.1M413.48 551.91h5.1M416.03 549.36v5.1M413.93 551.91h5.1M416.48 549.36v5.1M414.39 551.91h5.1M416.94 549.36v5.1M414.85 551.91h5.1M417.4 549.36v5.1M415.3 551.91h5.1M417.85 549.36v5.1M415.76 551.91h5.1M418.31 549.36v5.1M416.21 551.91h5.1M418.76 549.36v5.1M416.67 551.91h5.1M419.22 549.36v5.1M417.12 551.92h5.1M419.67 549.37v5.1M417.58 551.92h5.1M420.13 549.37v5.1M418.03 551.92h5.1M420.58 549.37v5.1M418.49 551.92h5.1M421.04 549.37v5.1M418.95 551.92h5.1M421.5 549.37v5.1M419.4 551.92h5.1M421.95 549.37v5.1M419.86 551.92h5.1M422.41 549.37v5.1M420.31 551.92h5.1M422.86 549.37v5.1M420.77 551.92h5.1M423.32 549.37v5.1M421.22 551.92h5.1M423.77 549.37v5.1M421.68 551.92h5.1M424.23 549.37v5.1M422.13 551.92h5.1M424.68 549.37v5.1M422.59 551.92h5.1M425.14 549.37v5.1M423.05 551.92h5.1M425.6 549.37v5.1M423.5 551.92h5.1M426.05 549.37v5.1M423.96 551.92h5.1M426.51 549.37v5.1M424.41 551.92h5.1M426.96 549.37v5.1M424.87 551.92h5.1M427.42 549.37v5.1M425.32 551.92h5.1M427.87 549.37v5.1M425.78 551.92h5.1M428.33 549.37v5.1M426.23 551.92h5.1M428.78 549.37v5.1M426.69 551.92h5.1M429.24 549.37v5.1M427.15 551.92h5.1M429.7 549.37v5.1M427.6 551.92h5.1M430.15 549.37v5.1M428.06 551.92h5.1M430.61 549.37v5.1M428.51 551.92h5.1M431.06 549.37v5.1M428.97 551.92h5.1M431.52 549.37v5.1M429.42 551.92h5.1M431.97 549.37v5.1M429.88 551.92h5.1M432.43 549.37v5.1M430.33 551.92h5.1M432.88 549.37v5.1M430.79 551.92h5.1M433.34 549.37v5.1M431.25 551.92h5.1M433.8 549.37v5.1M431.7 551.92h5.1M434.25 549.37v5.1M432.16 551.92h5.1M434.71 549.37v5.1M432.61 551.93h5.1M435.16 549.38v5.1M433.07 551.93h5.1M435.62 549.38v5.1M433.52 551.93h5.1M436.07 549.38v5.1M433.98 551.93h5.1M436.53 549.38v5.1M434.43 551.93h5.1M436.98 549.38v5.1M434.89 551.93h5.1M437.44 549.38v5.1M435.34 551.93h5.1M437.89 549.38v5.1M435.8 551.93h5.1M438.35 549.38v5.1M436.26 551.93h5.1M438.81 549.38v5.1M436.71 551.93h5.1M439.26 549.38v5.1M437.17 551.93h5.1M439.72 549.38v5.1M437.62 551.93h5.1M440.17 549.38v5.1M438.08 551.93h5.1M440.63 549.38v5.1M438.53 551.93h5.1M441.08 549.38v5.1M438.99 551.93h5.1M441.54 549.38v5.1M439.44 551.93h5.1M441.99 549.38v5.1M439.9 551.93h5.1M442.45 549.38v5.1M440.36 551.93h5.1M442.91 549.38v5.1M440.81 551.93h5.1M443.36 549.38v5.1M441.27 551.93h5.1M443.82 549.38v5.1M441.72 551.93h5.1M444.27 549.38v5.1M442.18 551.93h5.1M444.73 549.38v5.1M442.63 551.93h5.1M445.18 549.38v5.1M443.09 551.93h5.1M445.64 549.38v5.1M443.54 551.93h5.1M446.09 549.38v5.1M444 551.93h5.1M446.55 549.38v5.1M444.46 551.93h5.1M447.01 549.38v5.1M444.91 551.93h5.1M447.46 549.38v5.1M445.37 551.93h5.1M447.92 549.38v5.1M445.82 551.93h5.1M448.37 549.38v5.1M446.28 551.93h5.1M448.83 549.38v5.1M446.73 551.93h5.1M449.28 549.38v5.1M447.19 551.93h5.1M449.74 549.38v5.1M447.64 551.93h5.1M450.19 549.38v5.1M448.1 551.93h5.1M450.65 549.38v5.1M448.56 551.94h5.1M451.11 549.39v5.1M449.01 551.94h5.1M451.56 549.39v5.1M449.47 551.94h5.1M452.02 549.39v5.1M449.92 551.94h5.1M452.47 549.39v5.1M450.38 551.94h5.1M452.93 549.39v5.1M450.83 551.94h5.1M453.38 549.39v5.1M451.29 551.94h5.1M453.84 549.39v5.1M451.74 551.94h5.1M454.29 549.39v5.1M452.2 551.94h5.1M454.75 549.39v5.1M452.65 551.94h5.1M455.2 549.39v5.1M453.11 551.94h5.1M455.66 549.39v5.1M453.57 551.94h5.1M456.12 549.39v5.1M454.02 551.94h5.1M456.57 549.39v5.1M454.48 551.94h5.1M457.03 549.39v5.1M454.93 551.94h5.1M457.48 549.39v5.1M455.39 551.94h5.1M457.94 549.39v5.1M455.84 551.94h5.1M458.39 549.39v5.1M456.3 551.94h5.1M458.85 549.39v5.1M456.75 551.94h5.1M459.3 549.39v5.1M457.21 551.94h5.1M459.76 549.39v5.1M457.67 551.94h5.1M460.22 549.39v5.1M458.12 551.94h5.1M460.67 549.39v5.1M458.58 551.94h5.1M461.13 549.39v5.1M459.03 551.94h5.1M461.58 549.39v5.1M459.49 551.94h5.1M462.04 549.39v5.1M459.94 551.94h5.1M462.49 549.39v5.1M460.4 551.94h5.1M462.95 549.39v5.1M460.85 551.94h5.1M463.4 549.39v5.1M461.31 551.94h5.1M463.86 549.39v5.1M461.77 551.94h5.1M464.32 549.39v5.1M462.22 551.94h5.1M464.77 549.39v5.1M462.68 551.94h5.1M465.23 549.39v5.1M463.13 551.94h5.1M465.68 549.39v5.1M463.59 551.94h5.1M466.14 549.39v5.1M464.04 551.95h5.1M466.59 549.4v5.1M464.5 551.95h5.1M467.05 549.4v5.1M464.95 551.95h5.1M467.5 549.4v5.1M465.41 551.95h5.1M467.96 549.4v5.1M465.87 551.95h5.1M468.42 549.4v5.1M466.32 551.95h5.1M468.87 549.4v5.1M466.78 551.95h5.1M469.33 549.4v5.1M467.23 551.95h5.1M469.78 549.4v5.1M467.69 551.95h5.1M470.24 549.4v5.1M468.14 551.95h5.1M470.69 549.4v5.1M468.6 551.95h5.1M471.15 549.4v5.1M469.05 551.95h5.1M471.6 549.4v5.1M469.51 551.95h5.1M472.06 549.4v5.1M469.97 551.95h5.1M472.52 549.4v5.1M470.42 551.95h5.1M472.97 549.4v5.1M470.88 551.95h5.1M473.43 549.4v5.1M471.33 551.95h5.1M473.88 549.4v5.1M471.79 551.95h5.1M474.34 549.4v5.1M472.24 551.95h5.1M474.79 549.4v5.1M472.7 551.95h5.1M475.25 549.4v5.1M473.15 551.95h5.1M475.7 549.4v5.1M473.61 551.95h5.1M476.16 549.4v5.1M474.06 551.95h5.1M476.61 549.4v5.1M474.52 551.95h5.1M477.07 549.4v5.1M474.98 551.95h5.1M477.53 549.4v5.1M475.43 551.95h5.1M477.98 549.4v5.1M475.89 551.95h5.1M478.44 549.4v5.1M476.34 551.95h5.1M478.89 549.4v5.1M476.8 551.95h5.1M479.35 549.4v5.1M477.25 551.95h5.1M479.8 549.4v5.1M477.71 551.95h5.1M480.26 549.4v5.1M478.16 551.95h5.1M480.71 549.4v5.1M478.62 551.95h5.1M481.17 549.4v5.1M479.08 551.95h5.1M481.63 549.4v5.1M479.53 551.96h5.1M482.08 549.41v5.1M479.99 551.96h5.1M482.54 549.41v5.1M480.44 551.96h5.1M482.99 549.41v5.1M480.9 551.96h5.1M483.45 549.41v5.1M481.35 551.96h5.1M483.9 549.41v5.1M481.81 551.96h5.1M484.36 549.41v5.1M482.26 551.96h5.1M484.81 549.41v5.1M482.72 551.96h5.1M485.27 549.41v5.1M483.18 551.96h5.1M485.73 549.41v5.1M483.63 551.96h5.1M486.18 549.41v5.1M484.09 551.96h5.1M486.64 549.41v5.1M484.54 551.96h5.1M487.09 549.41v5.1M485 551.96h5.1M487.55 549.41v5.1M485.45 551.96h5.1M488 549.41v5.1M485.91 551.96h5.1M488.46 549.41v5.1M486.36 551.96h5.1M488.91 549.41v5.1M486.82 551.96h5.1M489.37 549.41v5.1M487.28 551.96h5.1M489.83 549.41v5.1M487.73 551.96h5.1M490.28 549.41v5.1M488.19 551.96h5.1M490.74 549.41v5.1M488.64 551.96h5.1M491.19 549.41v5.1M489.1 551.96h5.1M491.65 549.41v5.1M489.55 551.96h5.1M492.1 549.41v5.1M490.01 551.96h5.1M492.56 549.41v5.1M490.46 551.96h5.1M493.01 549.41v5.1M490.92 551.96h5.1M493.47 549.41v5.1M491.38 551.96h5.1M493.93 549.41v5.1M491.83 551.96h5.1M494.38 549.41v5.1M492.29 551.96h5.1M494.84 549.41v5.1M492.74 551.96h5.1M495.29 549.41v5.1M493.2 551.96h5.1M495.75 549.41v5.1M493.65 551.96h5.1M496.2 549.41v5.1M494.11 551.96h5.1M496.66 549.41v5.1M494.56 551.96h5.1M497.11 549.41v5.1M495.02 551.97h5.1M497.57 549.42v5.1M495.47 551.97h5.1M498.02 549.42v5.1M495.93 551.97h5.1M498.48 549.42v5.1M496.39 551.97h5.1M498.94 549.42v5.1M496.84 551.97h5.1M499.39 549.42v5.1M497.3 551.97h5.1M499.85 549.42v5.1M497.75 551.97h5.1M500.3 549.42v5.1M498.21 551.97h5.1M500.76 549.42v5.1M498.66 551.97h5.1M501.21 549.42v5.1M499.12 551.97h5.1M501.67 549.42v5.1M499.57 551.97h5.1M502.12 549.42v5.1M500.03 551.97h5.1M502.58 549.42v5.1M500.49 551.97h5.1M503.04 549.42v5.1M500.94 551.97h5.1M503.49 549.42v5.1M501.4 551.97h5.1M503.95 549.42v5.1M501.85 551.97h5.1M504.4 549.42v5.1M502.31 551.97h5.1M504.86 549.42v5.1M502.76 551.97h5.1M505.31 549.42v5.1M503.22 551.97h5.1M505.77 549.42v5.1M503.67 551.97h5.1M506.22 549.42v5.1M504.13 551.97h5.1M506.68 549.42v5.1M504.59 551.97h5.1M507.14 549.42v5.1M505.04 551.97h5.1M507.59 549.42v5.1M505.5 551.97h5.1M508.05 549.42v5.1M505.95 551.97h5.1M508.5 549.42v5.1M506.41 551.97h5.1M508.96 549.42v5.1M506.86 551.97h5.1M509.41 549.42v5.1M507.32 551.97h5.1M509.87 549.42v5.1M507.77 551.97h5.1M510.32 549.42v5.1M508.23 551.97h5.1M510.78 549.42v5.1M508.69 551.97h5.1M511.24 549.42v5.1M509.14 551.97h5.1M511.69 549.42v5.1M509.6 551.97h5.1M512.15 549.42v5.1M510.05 551.97h5.1M512.6 549.42v5.1M510.51 551.98h5.1M513.06 549.43v5.1M510.96 551.98h5.1M513.51 549.43v5.1M511.42 551.98h5.1M513.97 549.43v5.1M511.87 551.98h5.1M514.42 549.43v5.1M512.33 551.98h5.1M514.88 549.43v5.1M512.79 551.98h5.1M515.34 549.43v5.1M513.24 551.98h5.1M515.79 549.43v5.1M513.7 551.98h5.1M516.25 549.43v5.1M514.15 551.98h5.1M516.7 549.43v5.1M514.61 551.98h5.1M517.16 549.43v5.1M515.06 551.98h5.1M517.61 549.43v5.1M515.52 551.98h5.1M518.07 549.43v5.1M515.97 551.98h5.1M518.52 549.43v5.1M516.43 551.98h5.1M518.98 549.43v5.1M516.88 551.98h5.1M519.43 549.43v5.1M517.34 551.98h5.1M519.89 549.43v5.1M517.8 551.98h5.1M520.35 549.43v5.1M518.25 551.98h5.1M520.8 549.43v5.1M518.71 551.98h5.1M521.26 549.43v5.1M519.16 551.98h5.1M521.71 549.43v5.1M519.62 551.98h5.1M522.17 549.43v5.1M520.07 551.98h5.1M522.62 549.43v5.1M520.53 551.98h5.1M523.08 549.43v5.1M520.98 551.98h5.1M523.53 549.43v5.1M521.44 551.98h5.1M523.99 549.43v5.1M521.9 551.98h5.1M524.45 549.43v5.1M522.35 551.98h5.1M524.9 549.43v5.1M522.81 551.98h5.1M525.36 549.43v5.1M523.26 551.98h5.1M525.81 549.43v5.1M523.72 551.98h5.1M526.27 549.43v5.1M524.17 551.98h5.1M526.72 549.43v5.1M524.63 551.98h5.1M527.18 549.43v5.1M525.08 551.98h5.1M527.63 549.43v5.1M525.54 551.98h5.1M528.09 549.43v5.1M526 551.98h5.1M528.55 549.43v5.1M526.45 551.99h5.1M529 549.44v5.1M526.91 551.99h5.1M529.46 549.44v5.1M527.36 551.99h5.1M529.91 549.44v5.1M527.82 551.99h5.1M530.37 549.44v5.1M528.27 551.99h5.1M530.82 549.44v5.1M528.73 551.99h5.1M531.28 549.44v5.1M529.18 551.99h5.1M531.73 549.44v5.1M529.64 551.99h5.1M532.19 549.44v5.1M530.1 551.99h5.1M532.65 549.44v5.1M530.55 551.99h5.1M533.1 549.44v5.1M531.01 551.99h5.1M533.56 549.44v5.1M531.46 551.99h5.1M534.01 549.44v5.1M531.92 551.99h5.1M534.47 549.44v5.1M532.37 551.99h5.1M534.92 549.44v5.1M532.83 551.99h5.1M535.38 549.44v5.1M533.28 551.99h5.1M535.83 549.44v5.1M533.74 551.99h5.1M536.29 549.44v5.1M534.2 551.99h5.1M536.75 549.44v5.1M534.65 551.99h5.1M537.2 549.44v5.1M535.11 551.99h5.1M537.66 549.44v5.1M535.56 551.99h5.1M538.11 549.44v5.1M536.02 551.99h5.1M538.57 549.44v5.1M536.47 551.99h5.1M539.02 549.44v5.1M536.93 551.99h5.1M539.48 549.44v5.1M537.38 551.99h5.1M539.93 549.44v5.1M537.84 551.99h5.1M540.39 549.44v5.1M538.29 551.99h5.1M540.84 549.44v5.1M538.75 551.99h5.1M541.3 549.44v5.1M539.21 551.99h5.1M541.76 549.44v5.1M539.66 551.99h5.1M542.21 549.44v5.1M540.12 551.99h5.1M542.67 549.44v5.1M540.57 551.99h5.1M543.12 549.44v5.1M541.03 551.99h5.1M543.58 549.44v5.1M541.48 551.99h5.1M544.03 549.44v5.1M541.94 552h5.1M544.49 549.45v5.1M542.39 552h5.1M544.94 549.45v5.1M542.85 552h5.1M545.4 549.45v5.1M543.31 552h5.1M545.86 549.45v5.1M543.76 552h5.1M546.31 549.45v5.1M544.22 552h5.1M546.77 549.45v5.1M544.67 552h5.1M547.22 549.45v5.1M545.13 552h5.1M547.68 549.45v5.1M545.58 552h5.1M548.13 549.45v5.1M546.04 552h5.1M548.59 549.45v5.1M546.49 552h5.1M549.04 549.45v5.1M546.95 552h5.1M549.5 549.45v5.1M547.41 552h5.1M549.96 549.45v5.1" stroke="#ff0000" stroke-width="0.8" fill="none"/>
<path d="M518.6 421.1h4.6M520.9 418.8v4.6" stroke="#ff0000" stroke-width="0.6" fill="none"/>
<rect x="42" y="4.5" width="210" height="151" fill="none" stroke="#000" stroke-width="1"/>
<rect x="339.5" y="4.5" width="210" height="151" fill="none" stroke="#000" stroke-width="1"/>
<rect x="42" y="207.5" width="210" height="151" fill="none" stroke="#000" stroke-width="1"/>
<rect x="339.5" y="207.5" width="210" height="151" fill="none" stroke="#000" stroke-width="1"/>
<rect x="42" y="410.5" width="210" height="151" fill="none" stroke="#000" stroke-width="1"/>
<rect x="339.5" y="410.5" width="210" height="151" fill="none" stroke="#000" stroke-width="1"/>
<g filter="url(#idf)">
<text x="43.2" y="170.85" text-anchor="middle">0</text>
<text x="85.2" y="170.85" text-anchor="middle">2</text>
<text x="127.2" y="170.85" text-anchor="middle">4</text>
<text x="169.2" y="170.85" text-anchor="middle">6</text>
<text x="211.2" y="170.85" text-anchor="middle">8</text>
<text x="253.5" y="170.85" text-anchor="middle" letter-spacing="-0.2">10</text>
<text x="35.7" y="7.65" text-anchor="end">-3</text>
<text x="35.7" y="33.72" text-anchor="end">-3.5</text>
<text x="35.7" y="58.88" text-anchor="end">-4</text>
<text x="35.7" y="84.05" text-anchor="end">-4.5</text>
<text x="35.7" y="109.22" text-anchor="end">-5</text>
<text x="35.7" y="134.38" text-anchor="end">-5.5</text>
<text x="35.7" y="159.55" text-anchor="end">-6</text>
<text x="-0.1" y="84.15" text-anchor="start">ei</text>
<text x="126.8" y="186.95" text-anchor="middle">Jt</text>
<text x="240.7" y="186.95" text-anchor="middle">(a)</text>
<text x="200.7" y="18.65" text-anchor="end">e1</text>
<text x="200.7" y="29.62" text-anchor="end">e2</text>
<text x="200.7" y="40.59" text-anchor="end">e3</text>
<text x="200.7" y="51.56" text-anchor="end">e4</text>
<text x="340.7" y="170.85" text-anchor="middle">0</text>
<text x="363.78" y="170.85" text-anchor="middle" letter-spacing="-0.2">100</text>
<text x="386.55" y="170.85" text-anchor="middle" letter-spacing="-0.2">200</text>
<text x="409.33" y="170.85" text-anchor="middle" letter-spacing="-0.2">300</text>
<text x="432.11" y="170.85" text-anchor="middle" letter-spacing="-0.2">400</text>
<text x="454.88" y="170.85" text-anchor="middle" letter-spacing="-0.2">500</text>
<text x="477.66" y="170.85" text-anchor="middle" letter-spacing="-0.2">600</text>
<text x="500.44" y="170.85" text-anchor="middle" letter-spacing="-0.2">700</text>
<text x="523.21" y="170.85" text-anchor="middle" letter-spacing="-0.2">800</text>
<text x="545.99" y="170.85" text-anchor="middle" letter-spacing="-0.2">900</text>
<text x="333.2" y="8.55" text-anchor="end">-4</text>
<text x="333.2" y="27.43" text-anchor="end">-4.5</text>
<text x="333.2" y="46.3" text-anchor="end">-5</text>
<text x="333.2" y="65.17" text-anchor="end">-5.5</text>
<text x="333.2" y="84.05" text-anchor="end">-6</text>
<text x="333.2" y="102.92" text-anchor="end">-6.5</text>
<text x="333.2" y="121.8" text-anchor="end">-7</text>
<text x="333.2" y="140.67" text-anchor="end">-7.5</text>
<text x="333.2" y="159.55" text-anchor="end">-8</text>
<text x="297.4" y="84.15" text-anchor="start">ei</text>
<text x="424.3" y="186.95" text-anchor="middle">N</text>
<text x="538.2" y="186.95" text-anchor="middle">(b)</text>
<text x="498.6" y="18.65" text-anchor="end">e1</text>
<text x="498.6" y="29.62" text-anchor="end">e2</text>
<text x="498.6" y="40.59" text-anchor="end">e3</text>
<text x="498.6" y="51.56" text-anchor="end">e4</text>
<text x="43.2" y="373.85" text-anchor="middle">0</text>
<text x="66.22" y="373.85" text-anchor="middle" letter-spacing="-0.2">100</text>
<text x="88.94" y="373.85" text-anchor="middle" letter-spacing="-0.2">200</text>
<text x="111.66" y="373.85" text-anchor="middle" letter-spacing="-0.2">300</text>
<text x="134.38" y="373.85" text-anchor="middle" letter-spacing="-0.2">400</text>
<text x="157.1" y="373.85" text-anchor="middle" letter-spacing="-0.2">500</text>
<text x="179.82" y="373.85" text-anchor="middle" letter-spacing="-0.2">600</text>
<text x="202.54" y="373.85" text-anchor="middle" letter-spacing="-0.2">700</text>
<text x="225.26" y="373.85" text-anchor="middle" letter-spacing="-0.2">800</text>
<text x="247.98" y="373.85" text-anchor="middle" letter-spacing="-0.2">900</text>
<text x="35.7" y="211.55" text-anchor="end">20</text>
<text x="35.7" y="249.3" text-anchor="end">15</text>
<text x="35.7" y="287.05" text-anchor="end">10</text>
<text x="35.7" y="324.8" text-anchor="end">5</text>
<text x="35.7" y="362.55" text-anchor="end">0</text>
<text x="-0.1" y="287.15" text-anchor="start">Jt</text>
<text x="126.8" y="389.95" text-anchor="middle">N</text>
<text x="240.7" y="389.95" text-anchor="middle">(c)</text>
<text x="201.5" y="221.85" text-anchor="end">Jt</text>
<text x="340.7" y="373.85" text-anchor="middle">0</text>
<text x="382.7" y="373.85" text-anchor="middle">2</text>
<text x="424.7" y="373.85" text-anchor="middle">4</text>
<text x="466.7" y="373.85" text-anchor="middle">6</text>
<text x="508.7" y="373.85" text-anchor="middle">8</text>
<text x="551" y="373.85" text-anchor="middle" letter-spacing="-0.2">10</text>
<text x="333.2" y="211.55" text-anchor="end">0.48</text>
<text x="333.2" y="233.12" text-anchor="end">0.46</text>
<text x="333.2" y="254.69" text-anchor="end">0.44</text>
<text x="333.2" y="276.26" text-anchor="end">0.42</text>
<text x="333.2" y="297.84" text-anchor="end">0.4</text>
<text x="333.2" y="319.41" text-anchor="end">0.38</text>
<text x="333.2" y="340.98" text-anchor="end">0.36</text>
<text x="333.2" y="362.55" text-anchor="end">0.34</text>
<text x="297.4" y="287.15" text-anchor="start">s</text>
<text x="424.3" y="389.95" text-anchor="middle">Jt</text>
<text x="538.2" y="389.95" text-anchor="middle">(d)</text>
<text x="498.7" y="221.95" text-anchor="end">entropy</text>
<text x="43.2" y="576.85" text-anchor="middle">0</text>
<text x="66.22" y="576.85" text-anchor="middle" letter-spacing="-0.2">100</text>
<text x="88.94" y="576.85" text-anchor="middle" letter-spacing="-0.2">200</text>
<text x="111.66" y="576.85" text-anchor="middle" letter-spacing="-0.2">300</text>
<text x="134.38" y="576.85" text-anchor="middle" letter-spacing="-0.2">400</text>
<text x="157.1" y="576.85" text-anchor="middle" letter-spacing="-0.2">500</text>
<text x="179.82" y="576.85" text-anchor="middle" letter-spacing="-0.2">600</text>
<text x="202.54" y="576.85" text-anchor="middle" letter-spacing="-0.2">700</text>
<text x="225.26" y="576.85" text-anchor="middle" letter-spacing="-0.2">800</text>
<text x="247.98" y="576.85" text-anchor="middle" letter-spacing="-0.2">900</text>
<text x="35.7" y="414.55" text-anchor="end">-2.8</text>
<text x="35.7" y="444.75" text-anchor="end">-3</text>
<text x="35.7" y="474.95" text-anchor="end">-3.2</text>
<text x="35.7" y="505.15" text-anchor="end">-3.4</text>
<text x="35.7" y="535.35" text-anchor="end">-3.6</text>
<text x="35.7" y="565.55" text-anchor="end">-3.8</text>
<text x="-0.1" y="490.15" text-anchor="start">ei</text>
<text x="130.5" y="592.65" text-anchor="middle">N</text>
<text x="234.7" y="592.65" text-anchor="middle">(e)</text>
<text x="200.7" y="424.95" text-anchor="end">e1</text>
<text x="200.7" y="435.92" text-anchor="end">e2</text>
<text x="200.7" y="446.89" text-anchor="end">e3</text>
<text x="200.7" y="457.86" text-anchor="end">e4</text>
<text x="340.7" y="576.85" text-anchor="middle">0</text>
<text x="363.78" y="576.85" text-anchor="middle" letter-spacing="-0.2">100</text>
<text x="386.55" y="576.85" text-anchor="middle" letter-spacing="-0.2">200</text>
<text x="409.33" y="576.85" text-anchor="middle" letter-spacing="-0.2">300</text>
<text x="432.11" y="576.85" text-anchor="middle" letter-spacing="-0.2">400</text>
<text x="454.88" y="576.85" text-anchor="middle" letter-spacing="-0.2">500</text>
<text x="477.66" y="576.85" text-anchor="middle" letter-spacing="-0.2">600</text>
<text x="500.44" y="576.85" text-anchor="middle" letter-spacing="-0.2">700</text>
<text x="523.21" y="576.85" text-anchor="middle" letter-spacing="-0.2">800</text>
<text x="545.99" y="576.85" text-anchor="middle" letter-spacing="-0.2">900</text>
<text x="333.2" y="423.99" text-anchor="end">5.14</text>
<text x="333.2" y="442.86" text-anchor="end">5.12</text>
<text x="333.2" y="461.74" text-anchor="end">5.1</text>
<text x="333.2" y="480.61" text-anchor="end">5.08</text>
<text x="333.2" y="499.49" text-anchor="end">5.06</text>
<text x="333.2" y="518.36" text-anchor="end">5.04</text>
<text x="333.2" y="537.24" text-anchor="end">5.02</text>
<text x="333.2" y="556.11" text-anchor="end">5</text>
<text x="297.4" y="490.15" text-anchor="start">Jt</text>
<text x="428" y="592.65" text-anchor="middle">N</text>
<text x="532.2" y="592.65" text-anchor="middle">(f)</text>
<text x="499.1" y="425.05" text-anchor="end">Jt</text>
</g>
</svg>
</body></html>
